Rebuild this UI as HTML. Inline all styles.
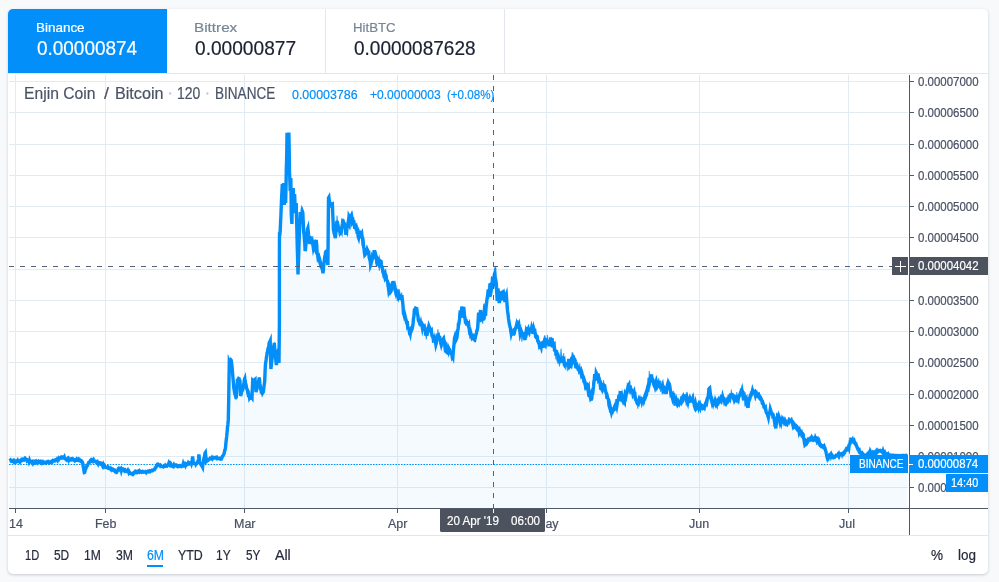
<!DOCTYPE html>
<html><head><meta charset="utf-8"><title>ENJBTC</title>
<style>
html,body{margin:0;padding:0;}
body{width:999px;height:582px;overflow:hidden;background:#f7f9fb;font-family:"Liberation Sans",sans-serif;position:relative;}
.card{position:absolute;left:8px;top:9px;width:980px;height:565px;background:#fff;border-radius:5px;box-shadow:0 1px 3px rgba(40,50,70,.23);}
.sel{position:absolute;left:8px;top:9px;width:159px;height:64px;background:#038ff9;border-top-left-radius:5px;}
.vline{position:absolute;top:9px;width:1px;height:64px;background:#e3e7ed;}
.hline{position:absolute;left:8px;width:980px;height:1px;background:#e3e7ed;}
.chart{position:absolute;left:0;top:0;}
.txt{position:absolute;left:0;top:0;width:999px;height:582px;will-change:transform;}
.t{position:absolute;white-space:nowrap;color:#485063;transform-origin:0 0;-webkit-text-stroke:0.2px;}
.box{position:absolute;}
</style></head><body>
<div class="card"></div>
<div class="sel"></div>
<div class="vline" style="left:325px"></div><div class="vline" style="left:504px"></div>
<div class="hline" style="top:73px"></div><div class="hline" style="top:535px"></div>

<svg class="chart" width="999" height="582" viewBox="0 0 999 582">
<rect x="15" y="75" width="1" height="433" fill="#e1ecf2"/>
<rect x="105" y="75" width="1" height="433" fill="#e1ecf2"/>
<rect x="244" y="75" width="1" height="433" fill="#e1ecf2"/>
<rect x="397" y="75" width="1" height="433" fill="#e1ecf2"/>
<rect x="546" y="75" width="1" height="433" fill="#e1ecf2"/>
<rect x="699" y="75" width="1" height="433" fill="#e1ecf2"/>
<rect x="848" y="75" width="1" height="433" fill="#e1ecf2"/>
<rect x="9" y="81" width="899" height="1" fill="#e1ecf2"/>
<rect x="9" y="112" width="899" height="1" fill="#e1ecf2"/>
<rect x="9" y="144" width="899" height="1" fill="#e1ecf2"/>
<rect x="9" y="175" width="899" height="1" fill="#e1ecf2"/>
<rect x="9" y="206" width="899" height="1" fill="#e1ecf2"/>
<rect x="9" y="237" width="899" height="1" fill="#e1ecf2"/>
<rect x="9" y="269" width="899" height="1" fill="#e1ecf2"/>
<rect x="9" y="300" width="899" height="1" fill="#e1ecf2"/>
<rect x="9" y="331" width="899" height="1" fill="#e1ecf2"/>
<rect x="9" y="362" width="899" height="1" fill="#e1ecf2"/>
<rect x="9" y="394" width="899" height="1" fill="#e1ecf2"/>
<rect x="9" y="425" width="899" height="1" fill="#e1ecf2"/>
<rect x="9" y="456" width="899" height="1" fill="#e1ecf2"/>
<rect x="9" y="487" width="899" height="1" fill="#e1ecf2"/>
<path d="M9.5,460.8 L9.9,460.5 L10.3,460.6 L10.7,460.1 L11.1,460.5 L11.5,461.3 L12.0,461.2 L12.4,461.3 L12.8,461.5 L13.2,460.9 L13.6,461.6 L14.0,462.0 L14.4,461.9 L14.8,461.1 L15.2,461.6 L15.6,461.6 L16.0,461.9 L16.4,461.6 L16.8,461.4 L17.2,461.0 L17.6,460.4 L18.0,461.2 L18.4,461.0 L18.8,461.1 L19.2,461.5 L19.6,460.6 L20.0,460.5 L20.4,461.1 L20.8,460.2 L21.2,459.8 L21.7,459.2 L22.1,459.2 L22.5,459.5 L22.9,460.1 L23.3,459.8 L23.7,459.9 L24.1,458.9 L24.6,458.9 L25.0,458.4 L25.4,458.8 L25.8,459.0 L26.2,459.3 L26.6,459.4 L27.0,460.6 L27.4,460.2 L27.8,460.4 L28.2,460.4 L28.6,460.3 L29.0,461.5 L29.4,460.4 L29.8,461.7 L30.2,461.4 L30.6,461.7 L31.0,461.6 L31.5,461.4 L31.9,461.5 L32.3,462.5 L32.7,462.0 L33.1,463.0 L33.5,462.3 L33.9,462.2 L34.3,462.5 L34.7,462.0 L35.1,462.8 L35.5,462.7 L35.9,462.3 L36.3,461.6 L36.8,462.3 L37.2,462.7 L37.6,461.7 L38.0,461.4 L38.4,462.3 L38.8,462.2 L39.2,462.3 L39.6,462.0 L40.0,461.6 L40.4,462.0 L40.8,462.3 L41.2,462.7 L41.6,461.7 L42.0,461.9 L42.4,462.6 L42.8,462.1 L43.2,462.8 L43.6,462.8 L44.0,462.6 L44.4,462.3 L44.8,462.2 L45.2,462.6 L45.6,463.0 L46.0,463.0 L46.4,462.6 L46.8,462.4 L47.2,461.9 L47.6,462.0 L48.0,462.0 L48.4,462.4 L48.8,461.9 L49.2,462.3 L49.6,462.6 L50.0,462.1 L50.4,462.0 L50.8,462.2 L51.2,462.3 L51.6,462.1 L52.0,461.0 L52.4,460.7 L52.8,461.4 L53.2,461.0 L53.6,460.9 L54.0,461.0 L54.4,460.7 L54.8,460.8 L55.2,460.0 L55.7,459.7 L56.1,459.7 L56.5,459.5 L56.9,459.8 L57.3,460.3 L57.7,458.9 L58.2,459.2 L58.6,459.4 L59.0,458.4 L59.4,458.8 L59.8,458.3 L60.2,458.1 L60.7,457.7 L61.1,457.9 L61.5,457.5 L61.9,457.6 L62.3,457.0 L62.7,457.1 L63.1,457.1 L63.5,457.8 L63.9,457.7 L64.3,457.0 L64.7,458.4 L65.2,458.9 L65.6,458.9 L66.0,459.2 L66.4,459.8 L66.8,459.8 L67.2,459.3 L67.6,458.8 L68.0,459.5 L68.4,458.9 L68.8,460.0 L69.2,459.2 L69.6,459.2 L70.1,459.7 L70.5,459.3 L70.9,459.0 L71.3,459.4 L71.7,459.0 L72.1,458.9 L72.5,458.7 L72.9,459.2 L73.3,459.8 L73.7,459.9 L74.2,460.0 L74.6,459.8 L75.0,460.5 L75.4,460.1 L75.8,460.4 L76.2,460.4 L76.6,460.4 L77.0,459.4 L77.4,459.8 L77.8,459.9 L78.3,459.4 L78.7,460.1 L79.1,459.8 L79.5,459.5 L79.9,460.0 L80.3,460.3 L80.6,461.2 L81.0,461.5 L81.4,461.8 L81.8,461.4 L82.1,461.8 L82.5,462.5 L82.9,463.9 L83.2,466.5 L83.6,468.4 L83.9,470.5 L84.3,472.5 L84.6,472.4 L85.0,471.0 L85.3,469.6 L85.7,469.0 L86.0,468.0 L86.4,467.1 L86.8,466.3 L87.2,465.9 L87.6,465.4 L88.0,464.0 L88.4,463.3 L88.8,462.5 L89.2,462.5 L89.6,462.3 L89.9,462.0 L90.3,460.9 L90.7,461.0 L91.1,460.0 L91.5,459.5 L91.9,459.6 L92.3,459.7 L92.8,459.7 L93.2,460.7 L93.6,460.0 L94.0,460.9 L94.3,461.2 L94.7,461.0 L95.1,461.2 L95.5,461.5 L95.8,461.5 L96.2,462.0 L96.6,462.0 L97.0,462.3 L97.4,461.9 L97.8,462.7 L98.2,463.6 L98.6,462.6 L99.0,462.6 L99.4,463.1 L99.8,463.4 L100.2,463.6 L100.6,463.3 L101.0,464.0 L101.4,463.8 L101.8,464.3 L102.2,464.5 L102.6,465.5 L103.0,464.7 L103.3,465.7 L103.7,465.4 L104.1,466.4 L104.5,465.8 L104.9,466.6 L105.3,467.0 L105.7,467.0 L106.1,467.3 L106.5,467.3 L106.9,467.5 L107.3,467.6 L107.7,467.1 L108.0,467.6 L108.4,467.6 L108.8,468.4 L109.2,468.5 L109.6,468.7 L110.0,468.5 L110.4,468.2 L110.8,468.8 L111.2,469.4 L111.6,468.7 L112.0,469.0 L112.4,469.6 L112.8,469.8 L113.2,469.5 L113.6,470.0 L114.0,470.0 L114.4,470.0 L114.8,471.1 L115.2,471.0 L115.5,471.1 L115.9,472.1 L116.3,472.5 L116.7,472.3 L117.1,471.0 L117.5,470.6 L117.8,470.1 L118.2,469.1 L118.6,469.2 L119.0,468.5 L119.4,468.6 L119.8,469.3 L120.2,468.7 L120.6,469.0 L121.0,469.2 L121.3,470.4 L121.7,469.0 L122.1,469.5 L122.5,469.2 L122.9,469.5 L123.3,469.3 L123.7,470.0 L124.1,470.5 L124.5,470.3 L124.9,470.9 L125.3,470.4 L125.7,471.0 L126.0,471.2 L126.4,471.3 L126.8,471.0 L127.2,470.8 L127.6,470.3 L128.0,471.5 L128.4,471.5 L128.8,472.5 L129.2,471.8 L129.6,472.5 L130.0,472.8 L130.5,473.4 L130.9,473.3 L131.3,473.4 L131.7,473.4 L132.1,474.0 L132.5,474.3 L132.9,473.6 L133.2,473.3 L133.6,473.6 L134.0,473.1 L134.4,472.5 L134.8,471.9 L135.1,472.1 L135.5,471.5 L135.9,471.8 L136.3,472.3 L136.8,472.1 L137.2,471.6 L137.6,471.8 L138.0,472.0 L138.4,471.4 L138.8,471.8 L139.2,472.0 L139.6,471.3 L140.0,471.9 L140.4,471.8 L140.8,471.6 L141.2,471.7 L141.5,472.0 L141.9,471.6 L142.3,471.4 L142.7,472.0 L143.1,472.1 L143.5,471.8 L143.9,471.9 L144.3,472.0 L144.7,472.0 L145.1,471.8 L145.5,471.5 L145.9,471.8 L146.3,472.5 L146.7,472.0 L147.2,472.0 L147.6,471.8 L148.0,471.8 L148.4,471.2 L148.8,471.4 L149.2,471.5 L149.6,471.1 L150.0,471.5 L150.4,471.0 L150.8,470.9 L151.3,470.6 L151.7,470.7 L152.1,470.1 L152.5,470.1 L152.9,470.3 L153.3,469.8 L153.8,469.6 L154.2,469.4 L154.6,469.5 L155.0,468.7 L155.3,467.7 L155.7,467.6 L156.1,467.3 L156.5,466.2 L156.8,466.0 L157.2,464.8 L157.6,465.0 L158.0,464.5 L158.4,465.0 L158.9,465.0 L159.3,465.5 L159.7,465.6 L160.1,465.3 L160.5,466.1 L160.9,465.8 L161.3,466.1 L161.8,466.4 L162.2,466.4 L162.6,466.4 L163.0,466.5 L163.4,466.8 L163.8,466.7 L164.2,466.4 L164.6,466.4 L165.0,466.4 L165.4,465.5 L165.8,466.0 L166.2,466.1 L166.6,465.9 L167.0,466.0 L167.4,465.3 L167.8,465.0 L168.1,464.4 L168.5,464.1 L168.9,463.0 L169.2,463.6 L169.6,462.4 L170.0,462.5 L170.4,463.2 L170.8,464.5 L171.1,465.3 L171.5,466.0 L171.9,465.8 L172.3,465.6 L172.7,466.0 L173.1,465.5 L173.4,465.9 L173.8,465.1 L174.2,466.0 L174.6,465.5 L175.0,465.5 L175.4,465.5 L175.8,465.0 L176.2,465.0 L176.7,465.8 L177.1,465.5 L177.5,465.8 L177.9,466.3 L178.3,465.8 L178.7,466.0 L179.2,465.9 L179.6,465.7 L180.0,466.2 L180.4,466.0 L180.8,466.3 L181.2,466.4 L181.6,466.1 L182.0,465.7 L182.4,465.5 L182.8,465.6 L183.2,464.0 L183.6,465.2 L184.0,464.9 L184.4,465.2 L184.8,464.8 L185.2,465.5 L185.6,464.1 L186.0,464.5 L186.4,464.9 L186.8,464.7 L187.2,463.7 L187.6,463.5 L188.0,463.0 L188.4,463.4 L188.8,463.7 L189.2,463.2 L189.6,463.5 L190.0,463.0 L190.4,463.1 L190.8,462.9 L191.2,462.3 L191.6,463.6 L192.0,462.5 L192.3,459.6 L192.6,456.5 L193.0,459.6 L193.4,463.2 L193.8,463.4 L194.2,463.3 L194.7,463.5 L195.1,463.9 L195.5,464.3 L195.9,464.4 L196.3,463.9 L196.7,463.5 L197.1,462.6 L197.4,462.5 L197.8,462.0 L198.2,462.0 L198.6,458.5 L198.9,454.5 L199.2,457.1 L199.5,460.5 L199.8,463.0 L200.2,463.4 L200.6,463.8 L201.0,464.8 L201.4,465.4 L201.8,465.3 L202.2,466.2 L202.6,467.0 L202.9,464.1 L203.3,462.0 L203.6,460.0 L204.0,458.1 L204.3,457.3 L204.7,455.4 L205.0,453.1 L205.4,452.5 L205.7,455.3 L206.0,458.1 L206.3,461.0 L206.7,460.4 L207.1,460.8 L207.5,460.4 L207.9,459.9 L208.4,459.9 L208.8,459.7 L209.2,459.1 L209.6,458.9 L210.0,458.5 L210.4,458.2 L210.8,458.4 L211.2,458.7 L211.6,458.6 L212.0,458.9 L212.4,457.7 L212.8,458.2 L213.2,458.0 L213.6,457.9 L214.0,457.5 L214.4,457.6 L214.8,457.7 L215.2,457.6 L215.6,457.5 L216.0,457.5 L216.4,458.1 L216.8,457.7 L217.2,458.5 L217.6,458.7 L218.0,458.5 L218.4,458.6 L218.8,458.5 L219.2,458.7 L219.6,458.8 L220.0,458.3 L220.4,458.5 L220.8,458.4 L221.2,458.3 L221.6,458.5 L222.0,457.4 L222.4,456.3 L222.8,456.0 L223.2,455.6 L223.6,454.5 L224.0,454.0 L224.4,452.0 L224.8,450.1 L225.1,449.8 L225.5,447.6 L225.9,443.0 L226.3,439.4 L226.7,436.2 L227.1,432.1 L227.5,427.0 L227.9,424.5 L228.3,419.4 L228.7,399.7 L229.0,380.0 L229.3,361.5 L229.7,362.4 L230.1,362.2 L230.5,360.4 L230.9,360.0 L231.3,360.5 L231.7,363.9 L232.1,367.7 L232.5,372.0 L232.8,376.2 L233.2,380.4 L233.5,384.4 L233.8,388.0 L234.2,389.8 L234.6,392.7 L235.0,394.3 L235.4,395.4 L235.8,397.3 L236.2,398.5 L236.6,392.3 L237.0,386.2 L237.4,380.0 L237.8,379.8 L238.2,379.3 L238.6,378.5 L238.9,378.7 L239.3,380.6 L239.7,380.2 L240.0,381.0 L240.3,388.5 L240.6,396.0 L241.0,394.6 L241.4,392.8 L241.7,391.2 L242.1,391.1 L242.5,390.0 L242.9,388.7 L243.3,386.9 L243.7,384.3 L244.0,382.9 L244.4,379.4 L244.8,378.5 L245.1,381.1 L245.5,383.4 L245.8,383.9 L246.2,385.8 L246.5,388.0 L246.9,389.1 L247.3,389.6 L247.7,392.2 L248.1,392.1 L248.4,395.1 L248.8,395.0 L249.2,395.2 L249.6,398.0 L250.0,397.4 L250.4,397.6 L250.8,397.0 L251.2,397.7 L251.6,397.5 L252.0,398.0 L252.3,389.2 L252.7,380.5 L253.1,380.9 L253.5,380.7 L253.9,380.3 L254.3,381.3 L254.7,380.5 L255.1,380.0 L255.4,384.5 L255.7,388.2 L256.0,392.0 L256.4,390.3 L256.8,389.2 L257.1,387.2 L257.5,386.0 L257.8,385.3 L258.2,382.0 L258.5,381.7 L258.9,380.2 L259.2,377.5 L259.6,380.4 L259.9,383.7 L260.3,386.0 L260.6,389.1 L261.0,389.3 L261.3,392.0 L261.7,392.0 L262.1,391.8 L262.5,393.2 L262.9,392.5 L263.3,392.0 L263.6,390.1 L264.0,386.2 L264.4,383.4 L264.7,381.0 L265.0,373.0 L265.4,365.0 L265.8,361.5 L266.1,360.6 L266.4,357.4 L266.8,355.0 L267.1,352.7 L267.5,352.1 L267.8,349.9 L268.2,348.5 L268.5,347.0 L268.8,345.5 L269.2,343.0 L269.5,342.0 L269.9,341.7 L270.2,341.0 L270.5,355.0 L270.9,369.0 L271.3,365.4 L271.7,361.6 L272.1,358.6 L272.5,355.0 L272.9,353.8 L273.2,349.2 L273.6,346.4 L273.9,345.8 L274.3,343.0 L274.7,348.1 L275.0,350.7 L275.4,354.0 L275.7,358.3 L276.1,362.9 L276.4,365.0 L276.8,361.8 L277.1,360.1 L277.5,355.0 L277.8,352.5 L278.2,352.6 L278.5,349.5 L278.8,356.2 L279.0,363.0 L279.4,323.0 L279.4,258.8 L279.5,234.0 L279.9,234.0 L280.2,231.0 L280.5,223.2 L280.9,215.5 L281.2,207.8 L281.5,200.0 L281.9,192.0 L282.3,184.0 L282.6,190.5 L283.0,197.0 L283.3,190.0 L283.6,183.0 L284.0,194.0 L284.3,205.0 L284.6,195.5 L285.0,186.0 L285.3,194.5 L285.6,203.0 L286.0,186.5 L286.3,170.0 L286.6,160.0 L286.8,150.0 L287.0,134.4 L287.4,134.4 L287.8,134.3 L288.1,134.3 L288.5,134.2 L288.9,134.2 L289.2,150.0 L289.5,172.0 L289.9,181.5 L290.2,191.0 L290.5,184.5 L290.8,178.0 L291.1,196.5 L291.3,215.0 L291.6,219.5 L291.9,224.0 L292.2,210.5 L292.5,197.0 L292.9,191.6 L293.2,188.0 L293.6,198.0 L294.0,208.0 L294.3,201.0 L294.6,194.0 L295.0,203.5 L295.4,213.0 L295.8,211.6 L296.2,203.0 L296.6,219.0 L297.0,235.0 L297.3,248.2 L297.7,261.3 L298.0,274.5 L298.3,264.7 L298.7,254.8 L299.0,245.0 L299.3,236.8 L299.6,228.5 L300.0,220.2 L300.3,212.0 L300.7,214.2 L301.1,214.8 L301.5,217.0 L301.8,214.4 L302.1,215.3 L302.5,211.7 L302.8,212.5 L303.1,219.0 L303.4,225.5 L303.7,232.0 L304.1,234.7 L304.4,239.2 L304.8,243.9 L305.1,251.0 L305.5,249.6 L305.8,245.9 L306.1,243.0 L306.5,240.0 L306.9,236.5 L307.2,232.4 L307.5,229.1 L307.9,228.0 L308.2,231.2 L308.5,234.2 L308.9,237.1 L309.2,243.0 L309.6,241.8 L309.9,243.9 L310.3,240.6 L310.7,238.7 L311.0,239.1 L311.4,240.0 L311.8,239.9 L312.2,242.3 L312.6,243.4 L313.0,245.8 L313.4,248.5 L313.8,247.2 L314.2,245.6 L314.6,246.8 L314.9,243.8 L315.3,245.9 L315.7,242.6 L316.1,240.0 L316.5,242.8 L316.8,245.9 L317.1,252.8 L317.5,254.0 L317.9,257.0 L318.2,256.3 L318.6,257.6 L319.0,259.1 L319.3,258.1 L319.7,259.5 L320.1,261.5 L320.5,262.7 L320.8,266.2 L321.2,267.0 L321.6,267.7 L322.0,267.5 L322.3,269.3 L322.6,270.6 L323.0,273.2 L323.4,269.5 L323.7,265.8 L324.0,262.8 L324.4,259.5 L324.8,256.3 L325.2,255.4 L325.5,252.5 L325.9,251.4 L326.3,251.2 L326.7,254.5 L327.1,257.1 L327.5,262.4 L327.9,265.0 L328.2,231.5 L328.5,198.0 L328.9,197.3 L329.2,199.9 L329.5,202.5 L329.9,203.8 L330.3,205.9 L330.7,206.0 L331.1,205.5 L331.6,204.4 L332.0,204.2 L332.4,204.0 L332.7,212.7 L333.1,221.3 L333.4,230.0 L333.8,231.3 L334.2,233.8 L334.6,234.6 L335.0,236.5 L335.4,238.0 L335.8,233.1 L336.2,227.5 L336.6,223.7 L337.0,220.9 L337.4,222.9 L337.8,224.1 L338.2,226.2 L338.6,228.3 L338.9,230.3 L339.3,231.1 L339.7,231.5 L340.1,233.3 L340.5,232.8 L340.9,228.8 L341.3,228.5 L341.6,229.5 L342.0,226.3 L342.4,223.8 L342.8,220.7 L343.2,220.9 L343.6,222.5 L344.0,225.3 L344.4,228.0 L344.8,225.1 L345.1,225.5 L345.5,229.0 L345.9,234.9 L346.3,230.2 L346.7,231.0 L347.1,226.3 L347.5,228.3 L347.9,223.9 L348.2,222.0 L348.6,222.9 L349.0,216.9 L349.4,217.8 L349.8,214.0 L350.2,218.9 L350.6,216.7 L350.9,220.2 L351.3,218.4 L351.7,220.3 L352.1,218.6 L352.5,220.9 L352.9,220.5 L353.2,222.7 L353.6,220.2 L354.0,224.3 L354.4,226.0 L354.8,228.8 L355.1,226.4 L355.5,227.1 L355.9,226.6 L356.3,230.5 L356.7,228.7 L357.1,232.7 L357.4,232.9 L357.8,232.2 L358.2,236.8 L358.6,237.9 L359.0,235.5 L359.4,234.9 L359.8,234.2 L360.1,234.5 L360.5,234.8 L360.9,231.3 L361.3,234.0 L361.7,233.3 L362.1,237.0 L362.5,237.4 L362.9,242.3 L363.2,242.0 L363.6,246.6 L364.0,248.8 L364.4,252.4 L364.8,254.9 L365.2,254.4 L365.6,251.4 L366.0,252.9 L366.4,252.2 L366.7,250.0 L367.1,249.2 L367.5,249.9 L367.9,251.8 L368.3,255.1 L368.7,250.6 L369.1,257.1 L369.4,258.3 L369.8,259.7 L370.2,259.7 L370.6,265.2 L371.0,264.2 L371.4,260.2 L371.8,259.3 L372.2,257.1 L372.6,258.0 L373.0,256.6 L373.4,256.7 L373.8,258.7 L374.2,255.3 L374.6,250.2 L375.0,252.5 L375.4,253.1 L375.7,255.7 L376.1,259.4 L376.5,257.8 L376.8,263.2 L377.2,264.2 L377.6,265.7 L378.0,261.7 L378.4,262.9 L378.8,261.6 L379.1,263.4 L379.5,263.9 L379.9,260.7 L380.3,261.1 L380.7,261.9 L381.1,261.8 L381.5,264.8 L381.9,267.2 L382.2,267.6 L382.6,269.0 L383.0,272.4 L383.4,273.5 L383.8,273.8 L384.2,275.3 L384.6,273.1 L384.9,272.7 L385.3,275.8 L385.7,274.7 L386.1,275.6 L386.5,279.6 L386.9,280.3 L387.3,280.8 L387.7,281.9 L388.1,284.4 L388.4,287.5 L388.8,290.8 L389.2,289.6 L389.6,293.6 L390.0,290.9 L390.4,287.9 L390.8,291.5 L391.2,290.9 L391.6,286.2 L392.0,285.0 L392.4,285.3 L392.8,281.8 L393.2,283.2 L393.6,281.2 L394.0,285.0 L394.4,284.4 L394.9,286.6 L395.3,290.4 L395.7,292.0 L396.1,290.1 L396.5,290.9 L396.9,295.7 L397.2,294.7 L397.6,293.9 L398.0,297.0 L398.4,294.3 L398.8,296.6 L399.2,295.6 L399.6,294.0 L400.0,298.2 L400.4,299.5 L400.7,296.4 L401.1,296.4 L401.5,297.7 L401.9,295.1 L402.3,299.8 L402.7,302.1 L403.1,306.8 L403.5,313.6 L403.9,314.2 L404.3,315.8 L404.7,314.7 L405.1,316.4 L405.4,317.0 L405.8,319.2 L406.2,320.4 L406.6,322.9 L407.0,323.5 L407.4,323.3 L407.8,327.3 L408.2,327.7 L408.7,329.0 L409.1,329.5 L409.5,332.5 L409.9,332.2 L410.3,333.7 L410.7,331.2 L411.1,329.8 L411.5,330.4 L411.9,329.5 L412.3,327.8 L412.7,326.0 L413.1,323.2 L413.5,318.0 L413.9,316.9 L414.3,310.0 L414.7,309.4 L415.1,310.2 L415.6,311.0 L416.0,308.3 L416.4,308.5 L416.8,308.7 L417.2,312.8 L417.5,314.1 L417.9,315.8 L418.3,319.8 L418.7,320.9 L419.1,320.9 L419.5,321.5 L419.9,321.8 L420.4,325.2 L420.8,323.6 L421.2,325.8 L421.6,323.5 L422.0,326.0 L422.4,328.1 L422.8,326.3 L423.3,327.6 L423.7,327.5 L424.1,327.1 L424.5,326.6 L424.9,328.1 L425.3,330.0 L425.8,335.5 L426.2,334.1 L426.6,333.7 L427.0,333.8 L427.3,330.6 L427.7,332.3 L428.1,329.4 L428.4,327.8 L428.8,326.0 L429.2,327.1 L429.6,327.4 L430.0,328.8 L430.4,329.3 L430.7,330.9 L431.1,331.9 L431.5,331.3 L431.9,335.3 L432.3,335.4 L432.7,337.2 L433.1,337.4 L433.5,340.9 L433.9,340.8 L434.3,340.2 L434.7,338.8 L435.1,340.6 L435.5,341.8 L435.9,344.6 L436.3,343.2 L436.6,340.4 L437.0,337.6 L437.4,337.7 L437.7,335.2 L438.1,333.7 L438.5,336.5 L438.9,336.7 L439.3,337.8 L439.6,336.0 L440.0,339.6 L440.4,341.2 L440.8,343.1 L441.2,344.6 L441.6,343.0 L442.0,343.0 L442.4,340.1 L442.8,340.0 L443.2,339.0 L443.6,338.4 L444.0,340.5 L444.4,341.9 L444.8,345.5 L445.1,348.0 L445.5,347.3 L445.9,346.6 L446.3,351.2 L446.7,352.3 L447.1,352.6 L447.5,350.3 L447.9,350.3 L448.2,351.1 L448.6,348.7 L449.0,349.7 L449.4,351.0 L449.8,350.7 L450.2,352.2 L450.6,353.1 L451.0,353.5 L451.4,353.7 L451.7,354.0 L452.1,356.3 L452.5,355.5 L452.9,356.5 L453.3,351.4 L453.7,347.1 L454.1,343.2 L454.5,338.4 L454.9,337.0 L455.2,338.5 L455.6,339.1 L455.9,340.2 L456.2,339.6 L456.6,338.4 L457.0,337.1 L457.4,333.3 L457.7,330.1 L458.1,329.5 L458.5,322.9 L458.8,325.0 L459.2,321.3 L459.5,320.0 L459.9,313.7 L460.3,310.5 L460.6,312.2 L461.0,318.0 L461.4,312.2 L461.8,306.5 L462.2,308.8 L462.6,316.0 L463.0,311.2 L463.3,308.6 L463.7,306.8 L464.0,309.8 L464.3,312.8 L464.6,317.5 L465.0,317.7 L465.3,320.5 L465.7,320.1 L466.1,320.7 L466.5,323.8 L466.9,323.8 L467.2,323.5 L467.6,321.2 L468.0,324.7 L468.4,326.0 L468.8,325.1 L469.2,328.6 L469.6,331.6 L469.9,331.3 L470.3,333.5 L470.7,332.5 L471.1,334.1 L471.5,335.3 L471.9,336.9 L472.3,336.1 L472.7,336.7 L473.1,336.3 L473.4,337.6 L473.8,339.0 L474.2,339.4 L474.6,338.4 L475.0,338.9 L475.4,337.0 L475.8,335.0 L476.1,334.4 L476.5,332.6 L476.9,330.4 L477.3,330.0 L477.7,327.6 L478.0,322.6 L478.3,317.5 L478.6,312.5 L478.9,317.5 L479.3,319.3 L479.6,322.0 L479.9,319.2 L480.2,313.8 L480.5,310.0 L480.8,316.5 L481.2,316.4 L481.5,321.0 L481.8,318.3 L482.2,312.9 L482.5,311.5 L482.8,316.5 L483.2,319.1 L483.5,320.5 L483.8,316.3 L484.2,311.3 L484.5,308.5 L484.8,309.0 L485.2,312.4 L485.5,316.0 L485.8,310.9 L486.2,305.6 L486.5,304.0 L486.8,300.5 L487.2,298.1 L487.5,299.0 L487.9,291.9 L488.3,289.5 L488.6,290.8 L489.0,293.1 L489.3,297.0 L489.6,292.3 L490.0,289.8 L490.3,283.0 L490.6,288.1 L491.0,288.8 L491.3,290.0 L491.7,287.9 L492.0,285.5 L492.4,279.5 L492.7,279.8 L493.1,282.3 L493.4,283.0 L493.8,280.4 L494.2,276.0 L494.5,274.3 L494.9,273.2 L495.2,277.5 L495.6,279.0 L496.0,281.2 L496.4,285.0 L496.8,293.0 L497.2,301.0 L497.5,295.2 L497.9,290.7 L498.2,290.5 L498.5,292.3 L498.9,299.1 L499.2,303.0 L499.5,300.7 L499.9,300.5 L500.2,293.8 L500.5,291.5 L500.9,293.6 L501.2,293.3 L501.6,298.3 L502.0,300.0 L502.4,296.4 L502.8,298.5 L503.1,293.1 L503.5,292.5 L503.9,294.5 L504.2,297.5 L504.6,299.6 L505.0,302.0 L505.3,299.3 L505.6,298.5 L506.0,295.3 L506.3,294.5 L506.6,298.5 L506.9,302.5 L507.2,307.0 L507.6,311.0 L507.9,313.2 L508.2,315.6 L508.6,319.0 L509.0,321.8 L509.3,323.7 L509.7,325.3 L510.1,327.4 L510.4,327.8 L510.8,331.0 L511.2,333.5 L511.6,332.0 L512.0,332.2 L512.4,332.4 L512.7,332.2 L513.1,333.0 L513.5,334.1 L513.9,334.1 L514.3,333.2 L514.7,329.6 L515.1,329.6 L515.5,327.9 L515.9,327.6 L516.3,326.0 L516.7,328.5 L517.1,324.1 L517.5,324.4 L517.9,321.7 L518.3,324.4 L518.7,323.7 L519.1,326.9 L519.5,328.1 L519.8,330.5 L520.2,333.8 L520.6,332.5 L521.0,334.1 L521.4,334.3 L521.8,332.6 L522.2,333.7 L522.6,334.5 L523.1,334.3 L523.5,335.5 L523.9,336.7 L524.3,337.8 L524.7,338.7 L525.1,339.9 L525.5,333.1 L525.9,332.9 L526.2,331.1 L526.6,332.1 L527.0,329.9 L527.4,327.2 L527.8,331.0 L528.2,331.2 L528.6,332.0 L529.0,332.7 L529.4,330.6 L529.8,328.4 L530.1,330.4 L530.5,328.1 L530.9,332.3 L531.3,329.7 L531.7,327.6 L532.1,328.9 L532.5,329.5 L532.9,333.8 L533.3,332.4 L533.8,328.9 L534.2,330.3 L534.6,329.0 L535.0,333.5 L535.4,333.8 L535.8,337.8 L536.3,334.6 L536.7,339.2 L537.1,335.6 L537.5,338.4 L537.9,342.3 L538.3,340.6 L538.7,343.1 L539.2,343.9 L539.6,346.3 L540.0,345.8 L540.4,344.5 L540.8,344.9 L541.2,346.2 L541.6,343.0 L542.0,342.8 L542.4,345.0 L542.8,346.3 L543.2,347.7 L543.6,343.1 L544.0,341.9 L544.4,340.6 L544.8,341.8 L545.2,338.2 L545.6,341.3 L546.0,339.4 L546.3,344.0 L546.7,340.1 L547.1,342.6 L547.5,340.3 L547.9,343.4 L548.3,341.7 L548.7,344.3 L549.1,346.0 L549.5,343.1 L549.8,344.6 L550.2,341.4 L550.6,337.7 L551.0,340.3 L551.4,341.4 L551.8,338.2 L552.2,343.2 L552.5,347.3 L552.9,343.2 L553.3,345.0 L553.7,345.4 L554.1,344.9 L554.5,349.8 L554.9,349.8 L555.3,351.0 L555.7,351.5 L556.0,355.5 L556.4,350.2 L556.8,353.2 L557.2,354.2 L557.6,354.2 L558.0,358.1 L558.5,357.6 L558.9,360.0 L559.3,360.3 L559.7,362.4 L560.1,358.3 L560.5,362.9 L561.0,360.0 L561.4,360.4 L561.8,361.9 L562.2,358.5 L562.6,363.1 L563.0,359.9 L563.4,360.0 L563.9,359.5 L564.3,363.8 L564.7,363.6 L565.1,365.3 L565.5,365.0 L565.9,362.4 L566.3,364.1 L566.7,363.9 L567.1,366.1 L567.5,364.2 L568.0,363.6 L568.4,363.6 L568.8,358.8 L569.2,363.1 L569.6,361.9 L570.0,361.3 L570.4,364.8 L570.9,363.9 L571.3,364.7 L571.7,362.9 L572.1,361.1 L572.5,360.3 L572.9,357.1 L573.4,358.0 L573.8,359.4 L574.2,358.8 L574.6,359.1 L575.0,363.7 L575.4,364.4 L575.8,367.0 L576.1,367.1 L576.5,365.5 L576.9,365.1 L577.3,366.6 L577.7,369.3 L578.1,365.9 L578.5,370.9 L578.9,369.7 L579.4,370.8 L579.8,370.3 L580.2,369.9 L580.6,370.7 L581.0,372.7 L581.4,371.3 L581.8,372.5 L582.2,374.8 L582.6,378.0 L583.0,376.3 L583.4,377.1 L583.8,380.1 L584.2,379.8 L584.6,381.2 L585.0,382.0 L585.4,385.2 L585.8,384.4 L586.2,384.5 L586.5,386.3 L586.9,385.7 L587.3,387.1 L587.7,386.6 L588.1,389.7 L588.5,388.6 L588.9,393.9 L589.3,396.7 L589.7,395.2 L590.0,396.9 L590.4,397.1 L590.8,398.5 L591.2,400.6 L591.6,395.2 L592.0,395.6 L592.4,390.6 L592.8,389.6 L593.1,390.1 L593.5,386.7 L593.9,381.5 L594.3,380.0 L594.7,374.1 L595.1,379.8 L595.5,379.5 L595.8,378.8 L596.2,372.9 L596.6,373.8 L597.0,376.7 L597.4,373.5 L597.8,375.5 L598.1,373.6 L598.5,378.4 L598.8,377.8 L599.1,378.9 L599.5,383.0 L599.9,381.0 L600.3,385.0 L600.8,384.1 L601.2,385.4 L601.6,388.9 L602.0,389.7 L602.4,390.5 L602.8,389.7 L603.2,386.0 L603.5,386.3 L603.9,389.2 L604.3,385.4 L604.7,385.6 L605.1,388.2 L605.5,390.3 L605.9,392.6 L606.3,393.0 L606.7,393.7 L607.0,396.9 L607.4,396.8 L607.8,398.2 L608.2,399.0 L608.6,400.8 L609.0,405.3 L609.5,406.9 L609.9,405.7 L610.3,407.7 L610.7,412.5 L611.1,410.7 L611.5,412.5 L611.9,411.2 L612.3,411.5 L612.8,408.1 L613.2,411.4 L613.6,408.6 L614.0,408.0 L614.4,408.3 L614.8,406.0 L615.2,405.9 L615.6,404.7 L616.0,405.0 L616.3,405.2 L616.7,406.6 L617.1,404.2 L617.5,400.6 L617.9,400.6 L618.3,400.3 L618.7,397.0 L619.0,395.0 L619.4,396.9 L619.8,397.5 L620.2,392.7 L620.6,392.8 L621.0,391.2 L621.4,395.0 L621.7,398.8 L622.1,396.9 L622.5,398.8 L622.9,401.3 L623.2,401.5 L623.6,402.1 L624.0,402.0 L624.4,402.6 L624.7,397.4 L625.1,394.5 L625.5,395.4 L625.9,396.3 L626.3,393.9 L626.6,391.8 L627.0,391.1 L627.4,389.5 L627.8,389.3 L628.1,388.6 L628.5,385.5 L628.9,384.8 L629.3,389.2 L629.6,387.8 L630.0,387.0 L630.4,387.0 L630.8,388.6 L631.2,389.7 L631.6,390.1 L632.0,392.6 L632.3,389.5 L632.7,392.6 L633.1,395.0 L633.5,394.4 L633.9,393.2 L634.3,396.0 L634.7,392.0 L635.1,397.3 L635.5,399.6 L636.0,400.0 L636.4,400.2 L636.8,402.4 L637.2,403.4 L637.6,403.7 L638.0,403.1 L638.4,403.6 L638.7,402.4 L639.1,399.8 L639.5,400.5 L639.9,398.8 L640.2,399.0 L640.6,402.1 L641.0,397.7 L641.4,401.2 L641.8,397.8 L642.2,400.8 L642.6,399.5 L643.0,399.4 L643.3,399.9 L643.7,400.5 L644.1,398.0 L644.5,397.1 L644.9,396.0 L645.3,397.5 L645.7,393.5 L646.1,395.4 L646.5,394.3 L646.8,391.1 L647.2,389.5 L647.6,391.8 L648.0,389.9 L648.4,386.6 L648.8,384.6 L649.2,377.9 L649.6,379.2 L650.0,381.0 L650.3,379.7 L650.7,377.9 L651.1,378.6 L651.5,374.3 L651.9,378.8 L652.3,378.9 L652.7,379.1 L653.0,380.1 L653.4,380.8 L653.8,384.1 L654.2,384.1 L654.6,386.6 L655.0,387.2 L655.4,383.6 L655.8,382.4 L656.2,386.0 L656.7,382.3 L657.1,383.3 L657.5,385.7 L657.9,384.8 L658.3,383.6 L658.7,383.5 L659.1,380.7 L659.5,386.5 L659.9,386.9 L660.3,386.6 L660.7,386.4 L661.1,389.1 L661.5,385.0 L661.9,386.4 L662.3,388.2 L662.7,386.7 L663.1,389.2 L663.5,390.5 L663.8,393.5 L664.2,391.2 L664.6,390.1 L665.0,391.4 L665.4,391.3 L665.8,391.7 L666.2,393.9 L666.6,390.4 L667.0,388.5 L667.3,385.4 L667.7,384.0 L668.1,382.6 L668.5,383.6 L668.9,383.3 L669.3,383.9 L669.7,385.5 L670.0,388.2 L670.4,390.2 L670.8,393.1 L671.2,392.4 L671.6,392.8 L672.0,396.2 L672.4,397.8 L672.8,396.0 L673.2,393.0 L673.5,396.8 L673.9,397.2 L674.3,400.0 L674.7,402.1 L675.1,405.6 L675.5,402.9 L676.0,402.4 L676.4,399.9 L676.8,401.1 L677.2,402.0 L677.6,401.5 L678.0,404.0 L678.5,403.2 L678.9,402.9 L679.3,403.7 L679.7,402.8 L680.1,402.6 L680.6,401.4 L681.0,402.0 L681.4,399.9 L681.8,398.8 L682.2,398.7 L682.6,397.1 L683.1,396.2 L683.5,397.5 L683.9,395.9 L684.3,396.0 L684.7,394.3 L685.1,398.4 L685.5,398.4 L685.9,398.3 L686.2,396.8 L686.6,399.4 L687.0,398.1 L687.4,400.1 L687.8,401.6 L688.2,399.1 L688.6,402.1 L689.0,400.1 L689.4,399.1 L689.8,401.3 L690.2,401.1 L690.5,398.2 L690.9,398.4 L691.3,401.4 L691.7,397.5 L692.1,400.0 L692.5,399.7 L692.8,398.9 L693.2,401.9 L693.6,402.5 L694.0,400.9 L694.3,405.5 L694.7,406.7 L695.1,405.8 L695.5,403.9 L695.9,405.9 L696.3,408.6 L696.7,408.1 L697.1,405.5 L697.6,405.3 L698.0,406.3 L698.4,405.3 L698.8,407.3 L699.2,406.1 L699.6,406.3 L700.0,405.2 L700.4,406.7 L700.8,404.9 L701.1,407.5 L701.5,407.0 L701.9,405.5 L702.3,405.7 L702.7,407.0 L703.0,408.0 L703.4,407.8 L703.8,407.8 L704.2,408.2 L704.6,406.5 L705.0,406.1 L705.4,403.8 L705.8,403.6 L706.3,401.9 L706.7,402.6 L707.1,400.4 L707.5,398.2 L707.9,398.1 L708.2,397.2 L708.6,392.4 L708.9,389.0 L709.3,388.5 L709.7,388.1 L710.1,391.7 L710.5,395.0 L710.8,396.1 L711.2,399.0 L711.6,400.6 L712.0,402.3 L712.4,401.0 L712.8,401.3 L713.2,403.0 L713.6,401.5 L714.0,401.3 L714.4,401.0 L714.8,401.5 L715.1,402.4 L715.5,400.3 L715.9,401.2 L716.3,402.7 L716.7,403.7 L717.1,400.8 L717.5,400.9 L717.9,400.2 L718.3,399.6 L718.7,401.8 L719.1,401.1 L719.5,401.5 L719.9,401.0 L720.2,401.4 L720.6,401.0 L721.0,399.2 L721.4,400.1 L721.8,398.2 L722.2,398.5 L722.6,396.6 L723.0,398.1 L723.4,397.8 L723.8,398.1 L724.2,399.7 L724.6,401.6 L725.0,400.8 L725.5,401.2 L725.9,400.8 L726.3,403.2 L726.7,402.8 L727.1,402.3 L727.5,402.2 L727.9,399.2 L728.4,399.5 L728.8,397.6 L729.2,397.9 L729.6,397.4 L730.0,398.3 L730.5,396.0 L730.9,393.5 L731.3,395.4 L731.7,396.0 L732.1,395.9 L732.5,395.4 L732.9,395.8 L733.3,397.7 L733.8,399.1 L734.2,398.7 L734.6,400.7 L735.0,400.1 L735.4,399.5 L735.8,399.8 L736.2,400.2 L736.6,397.1 L737.0,397.3 L737.5,397.8 L737.9,397.9 L738.3,398.9 L738.7,396.5 L739.1,396.3 L739.5,395.4 L739.9,394.8 L740.3,394.0 L740.7,394.0 L741.1,391.7 L741.6,392.3 L742.0,390.7 L742.4,393.0 L742.8,391.3 L743.2,393.8 L743.5,394.7 L743.9,397.1 L744.3,396.5 L744.6,399.4 L745.0,398.1 L745.4,395.4 L745.8,400.7 L746.2,399.9 L746.6,404.0 L747.0,405.1 L747.4,404.6 L747.8,406.4 L748.2,406.4 L748.6,401.8 L749.0,400.5 L749.3,398.9 L749.7,399.0 L750.1,397.8 L750.5,394.0 L750.9,395.6 L751.3,395.2 L751.7,392.8 L752.1,392.3 L752.5,390.5 L753.0,392.2 L753.4,392.1 L753.8,394.5 L754.2,391.5 L754.6,391.3 L755.0,394.0 L755.4,395.5 L755.8,394.2 L756.2,393.2 L756.6,393.9 L757.0,395.0 L757.4,395.4 L757.8,395.0 L758.2,396.7 L758.6,396.8 L759.0,396.1 L759.5,398.1 L759.9,398.3 L760.3,397.1 L760.7,397.7 L761.1,399.1 L761.5,399.5 L761.9,401.0 L762.3,403.3 L762.7,403.8 L763.1,403.3 L763.5,404.4 L763.9,406.5 L764.3,406.4 L764.7,407.3 L765.1,408.3 L765.5,407.8 L765.8,409.9 L766.2,412.1 L766.6,413.1 L767.0,413.3 L767.4,414.1 L767.7,414.1 L768.0,415.9 L768.4,417.4 L768.8,415.0 L769.2,414.3 L769.5,413.8 L769.9,412.1 L770.3,409.1 L770.7,410.3 L771.1,411.6 L771.5,412.6 L771.9,413.0 L772.3,414.1 L772.7,414.1 L773.1,414.5 L773.5,416.8 L773.9,417.4 L774.3,420.2 L774.7,422.6 L775.0,425.6 L775.4,425.8 L775.8,428.4 L776.1,425.0 L776.5,424.3 L776.8,421.6 L777.2,419.2 L777.5,416.0 L777.9,416.4 L778.3,417.3 L778.7,415.9 L779.1,417.1 L779.6,419.2 L780.0,421.2 L780.4,419.5 L780.8,420.1 L781.2,421.8 L781.6,419.8 L782.0,422.0 L782.4,419.8 L782.8,420.7 L783.2,421.9 L783.5,422.0 L783.9,420.9 L784.3,422.2 L784.7,421.5 L785.1,423.7 L785.5,424.1 L785.9,423.2 L786.3,422.9 L786.7,423.3 L787.1,421.0 L787.5,422.9 L787.9,422.5 L788.3,422.1 L788.7,421.0 L789.0,421.6 L789.4,420.6 L789.8,421.1 L790.2,421.4 L790.6,421.2 L791.0,420.9 L791.4,420.3 L791.8,421.5 L792.2,421.7 L792.6,423.5 L793.0,421.9 L793.4,424.6 L793.8,422.8 L794.3,425.6 L794.7,424.9 L795.1,425.0 L795.5,426.9 L795.9,427.0 L796.3,428.0 L796.7,428.6 L797.1,427.6 L797.5,428.3 L798.0,428.3 L798.4,429.0 L798.8,429.4 L799.2,432.0 L799.6,431.0 L800.0,432.5 L800.4,431.9 L800.8,432.5 L801.2,433.6 L801.6,432.9 L802.0,434.2 L802.4,433.5 L802.8,433.9 L803.2,434.4 L803.5,437.6 L803.9,439.3 L804.3,441.7 L804.6,441.4 L805.0,444.9 L805.4,444.5 L805.8,444.5 L806.2,443.7 L806.6,441.2 L807.1,441.6 L807.5,442.2 L807.9,441.6 L808.3,439.4 L808.7,439.5 L809.1,439.2 L809.5,439.4 L809.9,438.6 L810.3,438.7 L810.8,438.1 L811.2,439.2 L811.6,438.8 L812.0,437.4 L812.4,438.0 L812.8,438.9 L813.2,438.3 L813.6,438.1 L814.0,439.4 L814.5,439.0 L814.9,439.3 L815.3,437.9 L815.7,438.9 L816.1,439.8 L816.5,439.4 L816.9,439.1 L817.3,441.1 L817.7,440.5 L818.1,442.6 L818.5,442.8 L819.0,443.6 L819.4,442.4 L819.8,443.8 L820.2,445.0 L820.6,444.9 L821.0,445.9 L821.4,446.5 L821.9,446.4 L822.3,446.1 L822.7,446.6 L823.1,447.0 L823.5,446.4 L824.0,445.9 L824.4,447.2 L824.8,447.6 L825.2,449.2 L825.6,450.8 L826.0,451.7 L826.3,453.5 L826.7,455.3 L827.1,457.4 L827.5,458.6 L827.9,457.8 L828.3,458.3 L828.7,457.4 L829.1,455.8 L829.5,456.1 L829.9,455.0 L830.3,454.5 L830.7,454.0 L831.1,455.6 L831.5,454.5 L831.8,454.8 L832.2,456.0 L832.6,456.9 L833.0,457.3 L833.4,456.7 L833.8,457.1 L834.2,457.0 L834.6,457.1 L835.0,456.8 L835.5,455.9 L835.9,455.4 L836.3,455.5 L836.7,455.4 L837.1,455.9 L837.5,455.8 L837.9,454.8 L838.3,455.3 L838.8,454.3 L839.2,455.5 L839.6,454.5 L840.0,453.8 L840.4,453.9 L840.8,453.8 L841.2,453.7 L841.7,454.1 L842.1,454.5 L842.5,454.5 L842.9,454.8 L843.3,454.5 L843.7,453.0 L844.1,453.1 L844.6,452.8 L845.0,451.2 L845.4,451.1 L845.8,450.4 L846.2,449.7 L846.5,449.8 L846.9,449.1 L847.3,449.4 L847.7,449.0 L848.0,447.9 L848.4,447.0 L848.8,448.0 L849.2,444.7 L849.6,444.3 L850.0,443.6 L850.4,441.0 L850.7,439.6 L851.0,437.8 L851.4,439.6 L851.8,439.6 L852.1,440.5 L852.5,440.5 L852.9,441.2 L853.2,440.9 L853.5,441.8 L853.9,441.8 L854.2,441.3 L854.6,442.8 L855.0,442.8 L855.3,443.4 L855.7,444.4 L856.1,445.3 L856.4,445.6 L856.8,446.4 L857.2,447.6 L857.5,448.2 L857.9,449.3 L858.3,449.4 L858.6,450.0 L859.0,451.0 L859.4,450.5 L859.8,451.8 L860.2,452.2 L860.7,452.6 L861.1,453.8 L861.5,453.8 L861.9,453.8 L862.3,453.2 L862.7,453.7 L863.1,454.7 L863.5,454.6 L863.9,454.8 L864.3,455.8 L864.7,455.6 L865.1,456.3 L865.5,455.8 L865.9,455.9 L866.3,455.3 L866.7,455.4 L867.1,454.8 L867.6,454.2 L868.0,454.2 L868.4,453.0 L868.8,452.8 L869.2,454.0 L869.6,452.8 L870.0,453.5 L870.4,451.5 L870.8,452.3 L871.2,454.0 L871.6,453.0 L872.0,453.2 L872.4,453.1 L872.8,452.5 L873.2,453.0 L873.6,452.6 L874.0,453.0 L874.4,452.7 L874.8,452.1 L875.3,452.2 L875.7,454.7 L876.1,452.7 L876.5,451.6 L876.9,452.4 L877.3,452.2 L877.7,451.0 L878.2,451.0 L878.6,451.1 L879.0,451.0 L879.4,451.0 L879.8,450.8 L880.2,450.8 L880.6,450.8 L881.0,451.2 L881.4,451.2 L881.8,451.3 L882.2,451.9 L882.6,452.3 L883.0,451.1 L883.4,452.4 L883.8,452.0 L884.2,452.6 L884.5,452.3 L884.9,453.9 L885.3,453.7 L885.6,454.4 L886.0,454.2 L886.4,454.7 L886.8,454.5 L887.2,454.5 L887.6,454.2 L888.0,453.8 L888.4,454.6 L888.8,454.8 L889.2,454.8 L889.6,455.0 L890.0,455.0 L890.4,455.1 L890.8,455.1 L891.2,455.2 L891.7,455.2 L892.1,455.2 L892.5,455.2 L892.9,455.2 L893.3,455.2 L893.7,455.3 L894.1,455.4 L894.5,455.5 L894.9,455.5 L895.4,455.5 L895.8,455.6 L896.2,455.6 L896.6,455.5 L897.0,455.6 L897.4,455.6 L897.8,455.5 L898.2,455.7 L898.7,455.6 L899.1,455.5 L899.5,455.6 L899.9,455.6 L900.3,455.7 L900.8,455.7 L901.2,455.6 L901.6,455.7 L902.0,455.6 L902.4,455.5 L902.8,455.6 L903.2,455.5 L903.7,455.5 L904.1,455.5 L904.5,455.5 L904.9,455.5 L905.3,455.4 L905.8,455.5 L906.2,455.4 L906.6,455.3 L907.0,455.5 L907.0,508 L9.5,508 Z" fill="#2196f3" fill-opacity="0.048" stroke="none"/>
<path d="M9.5,460.8 L9.9,460.5 L10.3,460.6 L10.7,460.1 L11.1,460.5 L11.5,461.3 L12.0,461.2 L12.4,461.3 L12.8,461.5 L13.2,460.9 L13.6,461.6 L14.0,462.0 L14.4,461.9 L14.8,461.1 L15.2,461.6 L15.6,461.6 L16.0,461.9 L16.4,461.6 L16.8,461.4 L17.2,461.0 L17.6,460.4 L18.0,461.2 L18.4,461.0 L18.8,461.1 L19.2,461.5 L19.6,460.6 L20.0,460.5 L20.4,461.1 L20.8,460.2 L21.2,459.8 L21.7,459.2 L22.1,459.2 L22.5,459.5 L22.9,460.1 L23.3,459.8 L23.7,459.9 L24.1,458.9 L24.6,458.9 L25.0,458.4 L25.4,458.8 L25.8,459.0 L26.2,459.3 L26.6,459.4 L27.0,460.6 L27.4,460.2 L27.8,460.4 L28.2,460.4 L28.6,460.3 L29.0,461.5 L29.4,460.4 L29.8,461.7 L30.2,461.4 L30.6,461.7 L31.0,461.6 L31.5,461.4 L31.9,461.5 L32.3,462.5 L32.7,462.0 L33.1,463.0 L33.5,462.3 L33.9,462.2 L34.3,462.5 L34.7,462.0 L35.1,462.8 L35.5,462.7 L35.9,462.3 L36.3,461.6 L36.8,462.3 L37.2,462.7 L37.6,461.7 L38.0,461.4 L38.4,462.3 L38.8,462.2 L39.2,462.3 L39.6,462.0 L40.0,461.6 L40.4,462.0 L40.8,462.3 L41.2,462.7 L41.6,461.7 L42.0,461.9 L42.4,462.6 L42.8,462.1 L43.2,462.8 L43.6,462.8 L44.0,462.6 L44.4,462.3 L44.8,462.2 L45.2,462.6 L45.6,463.0 L46.0,463.0 L46.4,462.6 L46.8,462.4 L47.2,461.9 L47.6,462.0 L48.0,462.0 L48.4,462.4 L48.8,461.9 L49.2,462.3 L49.6,462.6 L50.0,462.1 L50.4,462.0 L50.8,462.2 L51.2,462.3 L51.6,462.1 L52.0,461.0 L52.4,460.7 L52.8,461.4 L53.2,461.0 L53.6,460.9 L54.0,461.0 L54.4,460.7 L54.8,460.8 L55.2,460.0 L55.7,459.7 L56.1,459.7 L56.5,459.5 L56.9,459.8 L57.3,460.3 L57.7,458.9 L58.2,459.2 L58.6,459.4 L59.0,458.4 L59.4,458.8 L59.8,458.3 L60.2,458.1 L60.7,457.7 L61.1,457.9 L61.5,457.5 L61.9,457.6 L62.3,457.0 L62.7,457.1 L63.1,457.1 L63.5,457.8 L63.9,457.7 L64.3,457.0 L64.7,458.4 L65.2,458.9 L65.6,458.9 L66.0,459.2 L66.4,459.8 L66.8,459.8 L67.2,459.3 L67.6,458.8 L68.0,459.5 L68.4,458.9 L68.8,460.0 L69.2,459.2 L69.6,459.2 L70.1,459.7 L70.5,459.3 L70.9,459.0 L71.3,459.4 L71.7,459.0 L72.1,458.9 L72.5,458.7 L72.9,459.2 L73.3,459.8 L73.7,459.9 L74.2,460.0 L74.6,459.8 L75.0,460.5 L75.4,460.1 L75.8,460.4 L76.2,460.4 L76.6,460.4 L77.0,459.4 L77.4,459.8 L77.8,459.9 L78.3,459.4 L78.7,460.1 L79.1,459.8 L79.5,459.5 L79.9,460.0 L80.3,460.3 L80.6,461.2 L81.0,461.5 L81.4,461.8 L81.8,461.4 L82.1,461.8 L82.5,462.5 L82.9,463.9 L83.2,466.5 L83.6,468.4 L83.9,470.5 L84.3,472.5 L84.6,472.4 L85.0,471.0 L85.3,469.6 L85.7,469.0 L86.0,468.0 L86.4,467.1 L86.8,466.3 L87.2,465.9 L87.6,465.4 L88.0,464.0 L88.4,463.3 L88.8,462.5 L89.2,462.5 L89.6,462.3 L89.9,462.0 L90.3,460.9 L90.7,461.0 L91.1,460.0 L91.5,459.5 L91.9,459.6 L92.3,459.7 L92.8,459.7 L93.2,460.7 L93.6,460.0 L94.0,460.9 L94.3,461.2 L94.7,461.0 L95.1,461.2 L95.5,461.5 L95.8,461.5 L96.2,462.0 L96.6,462.0 L97.0,462.3 L97.4,461.9 L97.8,462.7 L98.2,463.6 L98.6,462.6 L99.0,462.6 L99.4,463.1 L99.8,463.4 L100.2,463.6 L100.6,463.3 L101.0,464.0 L101.4,463.8 L101.8,464.3 L102.2,464.5 L102.6,465.5 L103.0,464.7 L103.3,465.7 L103.7,465.4 L104.1,466.4 L104.5,465.8 L104.9,466.6 L105.3,467.0 L105.7,467.0 L106.1,467.3 L106.5,467.3 L106.9,467.5 L107.3,467.6 L107.7,467.1 L108.0,467.6 L108.4,467.6 L108.8,468.4 L109.2,468.5 L109.6,468.7 L110.0,468.5 L110.4,468.2 L110.8,468.8 L111.2,469.4 L111.6,468.7 L112.0,469.0 L112.4,469.6 L112.8,469.8 L113.2,469.5 L113.6,470.0 L114.0,470.0 L114.4,470.0 L114.8,471.1 L115.2,471.0 L115.5,471.1 L115.9,472.1 L116.3,472.5 L116.7,472.3 L117.1,471.0 L117.5,470.6 L117.8,470.1 L118.2,469.1 L118.6,469.2 L119.0,468.5 L119.4,468.6 L119.8,469.3 L120.2,468.7 L120.6,469.0 L121.0,469.2 L121.3,470.4 L121.7,469.0 L122.1,469.5 L122.5,469.2 L122.9,469.5 L123.3,469.3 L123.7,470.0 L124.1,470.5 L124.5,470.3 L124.9,470.9 L125.3,470.4 L125.7,471.0 L126.0,471.2 L126.4,471.3 L126.8,471.0 L127.2,470.8 L127.6,470.3 L128.0,471.5 L128.4,471.5 L128.8,472.5 L129.2,471.8 L129.6,472.5 L130.0,472.8 L130.5,473.4 L130.9,473.3 L131.3,473.4 L131.7,473.4 L132.1,474.0 L132.5,474.3 L132.9,473.6 L133.2,473.3 L133.6,473.6 L134.0,473.1 L134.4,472.5 L134.8,471.9 L135.1,472.1 L135.5,471.5 L135.9,471.8 L136.3,472.3 L136.8,472.1 L137.2,471.6 L137.6,471.8 L138.0,472.0 L138.4,471.4 L138.8,471.8 L139.2,472.0 L139.6,471.3 L140.0,471.9 L140.4,471.8 L140.8,471.6 L141.2,471.7 L141.5,472.0 L141.9,471.6 L142.3,471.4 L142.7,472.0 L143.1,472.1 L143.5,471.8 L143.9,471.9 L144.3,472.0 L144.7,472.0 L145.1,471.8 L145.5,471.5 L145.9,471.8 L146.3,472.5 L146.7,472.0 L147.2,472.0 L147.6,471.8 L148.0,471.8 L148.4,471.2 L148.8,471.4 L149.2,471.5 L149.6,471.1 L150.0,471.5 L150.4,471.0 L150.8,470.9 L151.3,470.6 L151.7,470.7 L152.1,470.1 L152.5,470.1 L152.9,470.3 L153.3,469.8 L153.8,469.6 L154.2,469.4 L154.6,469.5 L155.0,468.7 L155.3,467.7 L155.7,467.6 L156.1,467.3 L156.5,466.2 L156.8,466.0 L157.2,464.8 L157.6,465.0 L158.0,464.5 L158.4,465.0 L158.9,465.0 L159.3,465.5 L159.7,465.6 L160.1,465.3 L160.5,466.1 L160.9,465.8 L161.3,466.1 L161.8,466.4 L162.2,466.4 L162.6,466.4 L163.0,466.5 L163.4,466.8 L163.8,466.7 L164.2,466.4 L164.6,466.4 L165.0,466.4 L165.4,465.5 L165.8,466.0 L166.2,466.1 L166.6,465.9 L167.0,466.0 L167.4,465.3 L167.8,465.0 L168.1,464.4 L168.5,464.1 L168.9,463.0 L169.2,463.6 L169.6,462.4 L170.0,462.5 L170.4,463.2 L170.8,464.5 L171.1,465.3 L171.5,466.0 L171.9,465.8 L172.3,465.6 L172.7,466.0 L173.1,465.5 L173.4,465.9 L173.8,465.1 L174.2,466.0 L174.6,465.5 L175.0,465.5 L175.4,465.5 L175.8,465.0 L176.2,465.0 L176.7,465.8 L177.1,465.5 L177.5,465.8 L177.9,466.3 L178.3,465.8 L178.7,466.0 L179.2,465.9 L179.6,465.7 L180.0,466.2 L180.4,466.0 L180.8,466.3 L181.2,466.4 L181.6,466.1 L182.0,465.7 L182.4,465.5 L182.8,465.6 L183.2,464.0 L183.6,465.2 L184.0,464.9 L184.4,465.2 L184.8,464.8 L185.2,465.5 L185.6,464.1 L186.0,464.5 L186.4,464.9 L186.8,464.7 L187.2,463.7 L187.6,463.5 L188.0,463.0 L188.4,463.4 L188.8,463.7 L189.2,463.2 L189.6,463.5 L190.0,463.0 L190.4,463.1 L190.8,462.9 L191.2,462.3 L191.6,463.6 L192.0,462.5 L192.3,459.6 L192.6,456.5 L193.0,459.6 L193.4,463.2 L193.8,463.4 L194.2,463.3 L194.7,463.5 L195.1,463.9 L195.5,464.3 L195.9,464.4 L196.3,463.9 L196.7,463.5 L197.1,462.6 L197.4,462.5 L197.8,462.0 L198.2,462.0 L198.6,458.5 L198.9,454.5 L199.2,457.1 L199.5,460.5 L199.8,463.0 L200.2,463.4 L200.6,463.8 L201.0,464.8 L201.4,465.4 L201.8,465.3 L202.2,466.2 L202.6,467.0 L202.9,464.1 L203.3,462.0 L203.6,460.0 L204.0,458.1 L204.3,457.3 L204.7,455.4 L205.0,453.1 L205.4,452.5 L205.7,455.3 L206.0,458.1 L206.3,461.0 L206.7,460.4 L207.1,460.8 L207.5,460.4 L207.9,459.9 L208.4,459.9 L208.8,459.7 L209.2,459.1 L209.6,458.9 L210.0,458.5 L210.4,458.2 L210.8,458.4 L211.2,458.7 L211.6,458.6 L212.0,458.9 L212.4,457.7 L212.8,458.2 L213.2,458.0 L213.6,457.9 L214.0,457.5 L214.4,457.6 L214.8,457.7 L215.2,457.6 L215.6,457.5 L216.0,457.5 L216.4,458.1 L216.8,457.7 L217.2,458.5 L217.6,458.7 L218.0,458.5 L218.4,458.6 L218.8,458.5 L219.2,458.7 L219.6,458.8 L220.0,458.3 L220.4,458.5 L220.8,458.4 L221.2,458.3 L221.6,458.5 L222.0,457.4 L222.4,456.3 L222.8,456.0 L223.2,455.6 L223.6,454.5 L224.0,454.0 L224.4,452.0 L224.8,450.1 L225.1,449.8 L225.5,447.6 L225.9,443.0 L226.3,439.4 L226.7,436.2 L227.1,432.1 L227.5,427.0 L227.9,424.5 L228.3,419.4 L228.7,399.7 L229.0,380.0 L229.3,361.5 L229.7,362.4 L230.1,362.2 L230.5,360.4 L230.9,360.0 L231.3,360.5 L231.7,363.9 L232.1,367.7 L232.5,372.0 L232.8,376.2 L233.2,380.4 L233.5,384.4 L233.8,388.0 L234.2,389.8 L234.6,392.7 L235.0,394.3 L235.4,395.4 L235.8,397.3 L236.2,398.5 L236.6,392.3 L237.0,386.2 L237.4,380.0 L237.8,379.8 L238.2,379.3 L238.6,378.5 L238.9,378.7 L239.3,380.6 L239.7,380.2 L240.0,381.0 L240.3,388.5 L240.6,396.0 L241.0,394.6 L241.4,392.8 L241.7,391.2 L242.1,391.1 L242.5,390.0 L242.9,388.7 L243.3,386.9 L243.7,384.3 L244.0,382.9 L244.4,379.4 L244.8,378.5 L245.1,381.1 L245.5,383.4 L245.8,383.9 L246.2,385.8 L246.5,388.0 L246.9,389.1 L247.3,389.6 L247.7,392.2 L248.1,392.1 L248.4,395.1 L248.8,395.0 L249.2,395.2 L249.6,398.0 L250.0,397.4 L250.4,397.6 L250.8,397.0 L251.2,397.7 L251.6,397.5 L252.0,398.0 L252.3,389.2 L252.7,380.5 L253.1,380.9 L253.5,380.7 L253.9,380.3 L254.3,381.3 L254.7,380.5 L255.1,380.0 L255.4,384.5 L255.7,388.2 L256.0,392.0 L256.4,390.3 L256.8,389.2 L257.1,387.2 L257.5,386.0 L257.8,385.3 L258.2,382.0 L258.5,381.7 L258.9,380.2 L259.2,377.5 L259.6,380.4 L259.9,383.7 L260.3,386.0 L260.6,389.1 L261.0,389.3 L261.3,392.0 L261.7,392.0 L262.1,391.8 L262.5,393.2 L262.9,392.5 L263.3,392.0 L263.6,390.1 L264.0,386.2 L264.4,383.4 L264.7,381.0 L265.0,373.0 L265.4,365.0 L265.8,361.5 L266.1,360.6 L266.4,357.4 L266.8,355.0 L267.1,352.7 L267.5,352.1 L267.8,349.9 L268.2,348.5 L268.5,347.0 L268.8,345.5 L269.2,343.0 L269.5,342.0 L269.9,341.7 L270.2,341.0 L270.5,355.0 L270.9,369.0 L271.3,365.4 L271.7,361.6 L272.1,358.6 L272.5,355.0 L272.9,353.8 L273.2,349.2 L273.6,346.4 L273.9,345.8 L274.3,343.0 L274.7,348.1 L275.0,350.7 L275.4,354.0 L275.7,358.3 L276.1,362.9 L276.4,365.0 L276.8,361.8 L277.1,360.1 L277.5,355.0 L277.8,352.5 L278.2,352.6 L278.5,349.5 L278.8,356.2 L279.0,363.0 L279.4,323.0 L279.4,258.8 L279.5,234.0 L279.9,234.0 L280.2,231.0 L280.5,223.2 L280.9,215.5 L281.2,207.8 L281.5,200.0 L281.9,192.0 L282.3,184.0 L282.6,190.5 L283.0,197.0 L283.3,190.0 L283.6,183.0 L284.0,194.0 L284.3,205.0 L284.6,195.5 L285.0,186.0 L285.3,194.5 L285.6,203.0 L286.0,186.5 L286.3,170.0 L286.6,160.0 L286.8,150.0 L287.0,134.4 L287.4,134.4 L287.8,134.3 L288.1,134.3 L288.5,134.2 L288.9,134.2 L289.2,150.0 L289.5,172.0 L289.9,181.5 L290.2,191.0 L290.5,184.5 L290.8,178.0 L291.1,196.5 L291.3,215.0 L291.6,219.5 L291.9,224.0 L292.2,210.5 L292.5,197.0 L292.9,191.6 L293.2,188.0 L293.6,198.0 L294.0,208.0 L294.3,201.0 L294.6,194.0 L295.0,203.5 L295.4,213.0 L295.8,211.6 L296.2,203.0 L296.6,219.0 L297.0,235.0 L297.3,248.2 L297.7,261.3 L298.0,274.5 L298.3,264.7 L298.7,254.8 L299.0,245.0 L299.3,236.8 L299.6,228.5 L300.0,220.2 L300.3,212.0 L300.7,214.2 L301.1,214.8 L301.5,217.0 L301.8,214.4 L302.1,215.3 L302.5,211.7 L302.8,212.5 L303.1,219.0 L303.4,225.5 L303.7,232.0 L304.1,234.7 L304.4,239.2 L304.8,243.9 L305.1,251.0 L305.5,249.6 L305.8,245.9 L306.1,243.0 L306.5,240.0 L306.9,236.5 L307.2,232.4 L307.5,229.1 L307.9,228.0 L308.2,231.2 L308.5,234.2 L308.9,237.1 L309.2,243.0 L309.6,241.8 L309.9,243.9 L310.3,240.6 L310.7,238.7 L311.0,239.1 L311.4,240.0 L311.8,239.9 L312.2,242.3 L312.6,243.4 L313.0,245.8 L313.4,248.5 L313.8,247.2 L314.2,245.6 L314.6,246.8 L314.9,243.8 L315.3,245.9 L315.7,242.6 L316.1,240.0 L316.5,242.8 L316.8,245.9 L317.1,252.8 L317.5,254.0 L317.9,257.0 L318.2,256.3 L318.6,257.6 L319.0,259.1 L319.3,258.1 L319.7,259.5 L320.1,261.5 L320.5,262.7 L320.8,266.2 L321.2,267.0 L321.6,267.7 L322.0,267.5 L322.3,269.3 L322.6,270.6 L323.0,273.2 L323.4,269.5 L323.7,265.8 L324.0,262.8 L324.4,259.5 L324.8,256.3 L325.2,255.4 L325.5,252.5 L325.9,251.4 L326.3,251.2 L326.7,254.5 L327.1,257.1 L327.5,262.4 L327.9,265.0 L328.2,231.5 L328.5,198.0 L328.9,197.3 L329.2,199.9 L329.5,202.5 L329.9,203.8 L330.3,205.9 L330.7,206.0 L331.1,205.5 L331.6,204.4 L332.0,204.2 L332.4,204.0 L332.7,212.7 L333.1,221.3 L333.4,230.0 L333.8,231.3 L334.2,233.8 L334.6,234.6 L335.0,236.5 L335.4,238.0 L335.8,233.1 L336.2,227.5 L336.6,223.7 L337.0,220.9 L337.4,222.9 L337.8,224.1 L338.2,226.2 L338.6,228.3 L338.9,230.3 L339.3,231.1 L339.7,231.5 L340.1,233.3 L340.5,232.8 L340.9,228.8 L341.3,228.5 L341.6,229.5 L342.0,226.3 L342.4,223.8 L342.8,220.7 L343.2,220.9 L343.6,222.5 L344.0,225.3 L344.4,228.0 L344.8,225.1 L345.1,225.5 L345.5,229.0 L345.9,234.9 L346.3,230.2 L346.7,231.0 L347.1,226.3 L347.5,228.3 L347.9,223.9 L348.2,222.0 L348.6,222.9 L349.0,216.9 L349.4,217.8 L349.8,214.0 L350.2,218.9 L350.6,216.7 L350.9,220.2 L351.3,218.4 L351.7,220.3 L352.1,218.6 L352.5,220.9 L352.9,220.5 L353.2,222.7 L353.6,220.2 L354.0,224.3 L354.4,226.0 L354.8,228.8 L355.1,226.4 L355.5,227.1 L355.9,226.6 L356.3,230.5 L356.7,228.7 L357.1,232.7 L357.4,232.9 L357.8,232.2 L358.2,236.8 L358.6,237.9 L359.0,235.5 L359.4,234.9 L359.8,234.2 L360.1,234.5 L360.5,234.8 L360.9,231.3 L361.3,234.0 L361.7,233.3 L362.1,237.0 L362.5,237.4 L362.9,242.3 L363.2,242.0 L363.6,246.6 L364.0,248.8 L364.4,252.4 L364.8,254.9 L365.2,254.4 L365.6,251.4 L366.0,252.9 L366.4,252.2 L366.7,250.0 L367.1,249.2 L367.5,249.9 L367.9,251.8 L368.3,255.1 L368.7,250.6 L369.1,257.1 L369.4,258.3 L369.8,259.7 L370.2,259.7 L370.6,265.2 L371.0,264.2 L371.4,260.2 L371.8,259.3 L372.2,257.1 L372.6,258.0 L373.0,256.6 L373.4,256.7 L373.8,258.7 L374.2,255.3 L374.6,250.2 L375.0,252.5 L375.4,253.1 L375.7,255.7 L376.1,259.4 L376.5,257.8 L376.8,263.2 L377.2,264.2 L377.6,265.7 L378.0,261.7 L378.4,262.9 L378.8,261.6 L379.1,263.4 L379.5,263.9 L379.9,260.7 L380.3,261.1 L380.7,261.9 L381.1,261.8 L381.5,264.8 L381.9,267.2 L382.2,267.6 L382.6,269.0 L383.0,272.4 L383.4,273.5 L383.8,273.8 L384.2,275.3 L384.6,273.1 L384.9,272.7 L385.3,275.8 L385.7,274.7 L386.1,275.6 L386.5,279.6 L386.9,280.3 L387.3,280.8 L387.7,281.9 L388.1,284.4 L388.4,287.5 L388.8,290.8 L389.2,289.6 L389.6,293.6 L390.0,290.9 L390.4,287.9 L390.8,291.5 L391.2,290.9 L391.6,286.2 L392.0,285.0 L392.4,285.3 L392.8,281.8 L393.2,283.2 L393.6,281.2 L394.0,285.0 L394.4,284.4 L394.9,286.6 L395.3,290.4 L395.7,292.0 L396.1,290.1 L396.5,290.9 L396.9,295.7 L397.2,294.7 L397.6,293.9 L398.0,297.0 L398.4,294.3 L398.8,296.6 L399.2,295.6 L399.6,294.0 L400.0,298.2 L400.4,299.5 L400.7,296.4 L401.1,296.4 L401.5,297.7 L401.9,295.1 L402.3,299.8 L402.7,302.1 L403.1,306.8 L403.5,313.6 L403.9,314.2 L404.3,315.8 L404.7,314.7 L405.1,316.4 L405.4,317.0 L405.8,319.2 L406.2,320.4 L406.6,322.9 L407.0,323.5 L407.4,323.3 L407.8,327.3 L408.2,327.7 L408.7,329.0 L409.1,329.5 L409.5,332.5 L409.9,332.2 L410.3,333.7 L410.7,331.2 L411.1,329.8 L411.5,330.4 L411.9,329.5 L412.3,327.8 L412.7,326.0 L413.1,323.2 L413.5,318.0 L413.9,316.9 L414.3,310.0 L414.7,309.4 L415.1,310.2 L415.6,311.0 L416.0,308.3 L416.4,308.5 L416.8,308.7 L417.2,312.8 L417.5,314.1 L417.9,315.8 L418.3,319.8 L418.7,320.9 L419.1,320.9 L419.5,321.5 L419.9,321.8 L420.4,325.2 L420.8,323.6 L421.2,325.8 L421.6,323.5 L422.0,326.0 L422.4,328.1 L422.8,326.3 L423.3,327.6 L423.7,327.5 L424.1,327.1 L424.5,326.6 L424.9,328.1 L425.3,330.0 L425.8,335.5 L426.2,334.1 L426.6,333.7 L427.0,333.8 L427.3,330.6 L427.7,332.3 L428.1,329.4 L428.4,327.8 L428.8,326.0 L429.2,327.1 L429.6,327.4 L430.0,328.8 L430.4,329.3 L430.7,330.9 L431.1,331.9 L431.5,331.3 L431.9,335.3 L432.3,335.4 L432.7,337.2 L433.1,337.4 L433.5,340.9 L433.9,340.8 L434.3,340.2 L434.7,338.8 L435.1,340.6 L435.5,341.8 L435.9,344.6 L436.3,343.2 L436.6,340.4 L437.0,337.6 L437.4,337.7 L437.7,335.2 L438.1,333.7 L438.5,336.5 L438.9,336.7 L439.3,337.8 L439.6,336.0 L440.0,339.6 L440.4,341.2 L440.8,343.1 L441.2,344.6 L441.6,343.0 L442.0,343.0 L442.4,340.1 L442.8,340.0 L443.2,339.0 L443.6,338.4 L444.0,340.5 L444.4,341.9 L444.8,345.5 L445.1,348.0 L445.5,347.3 L445.9,346.6 L446.3,351.2 L446.7,352.3 L447.1,352.6 L447.5,350.3 L447.9,350.3 L448.2,351.1 L448.6,348.7 L449.0,349.7 L449.4,351.0 L449.8,350.7 L450.2,352.2 L450.6,353.1 L451.0,353.5 L451.4,353.7 L451.7,354.0 L452.1,356.3 L452.5,355.5 L452.9,356.5 L453.3,351.4 L453.7,347.1 L454.1,343.2 L454.5,338.4 L454.9,337.0 L455.2,338.5 L455.6,339.1 L455.9,340.2 L456.2,339.6 L456.6,338.4 L457.0,337.1 L457.4,333.3 L457.7,330.1 L458.1,329.5 L458.5,322.9 L458.8,325.0 L459.2,321.3 L459.5,320.0 L459.9,313.7 L460.3,310.5 L460.6,312.2 L461.0,318.0 L461.4,312.2 L461.8,306.5 L462.2,308.8 L462.6,316.0 L463.0,311.2 L463.3,308.6 L463.7,306.8 L464.0,309.8 L464.3,312.8 L464.6,317.5 L465.0,317.7 L465.3,320.5 L465.7,320.1 L466.1,320.7 L466.5,323.8 L466.9,323.8 L467.2,323.5 L467.6,321.2 L468.0,324.7 L468.4,326.0 L468.8,325.1 L469.2,328.6 L469.6,331.6 L469.9,331.3 L470.3,333.5 L470.7,332.5 L471.1,334.1 L471.5,335.3 L471.9,336.9 L472.3,336.1 L472.7,336.7 L473.1,336.3 L473.4,337.6 L473.8,339.0 L474.2,339.4 L474.6,338.4 L475.0,338.9 L475.4,337.0 L475.8,335.0 L476.1,334.4 L476.5,332.6 L476.9,330.4 L477.3,330.0 L477.7,327.6 L478.0,322.6 L478.3,317.5 L478.6,312.5 L478.9,317.5 L479.3,319.3 L479.6,322.0 L479.9,319.2 L480.2,313.8 L480.5,310.0 L480.8,316.5 L481.2,316.4 L481.5,321.0 L481.8,318.3 L482.2,312.9 L482.5,311.5 L482.8,316.5 L483.2,319.1 L483.5,320.5 L483.8,316.3 L484.2,311.3 L484.5,308.5 L484.8,309.0 L485.2,312.4 L485.5,316.0 L485.8,310.9 L486.2,305.6 L486.5,304.0 L486.8,300.5 L487.2,298.1 L487.5,299.0 L487.9,291.9 L488.3,289.5 L488.6,290.8 L489.0,293.1 L489.3,297.0 L489.6,292.3 L490.0,289.8 L490.3,283.0 L490.6,288.1 L491.0,288.8 L491.3,290.0 L491.7,287.9 L492.0,285.5 L492.4,279.5 L492.7,279.8 L493.1,282.3 L493.4,283.0 L493.8,280.4 L494.2,276.0 L494.5,274.3 L494.9,273.2 L495.2,277.5 L495.6,279.0 L496.0,281.2 L496.4,285.0 L496.8,293.0 L497.2,301.0 L497.5,295.2 L497.9,290.7 L498.2,290.5 L498.5,292.3 L498.9,299.1 L499.2,303.0 L499.5,300.7 L499.9,300.5 L500.2,293.8 L500.5,291.5 L500.9,293.6 L501.2,293.3 L501.6,298.3 L502.0,300.0 L502.4,296.4 L502.8,298.5 L503.1,293.1 L503.5,292.5 L503.9,294.5 L504.2,297.5 L504.6,299.6 L505.0,302.0 L505.3,299.3 L505.6,298.5 L506.0,295.3 L506.3,294.5 L506.6,298.5 L506.9,302.5 L507.2,307.0 L507.6,311.0 L507.9,313.2 L508.2,315.6 L508.6,319.0 L509.0,321.8 L509.3,323.7 L509.7,325.3 L510.1,327.4 L510.4,327.8 L510.8,331.0 L511.2,333.5 L511.6,332.0 L512.0,332.2 L512.4,332.4 L512.7,332.2 L513.1,333.0 L513.5,334.1 L513.9,334.1 L514.3,333.2 L514.7,329.6 L515.1,329.6 L515.5,327.9 L515.9,327.6 L516.3,326.0 L516.7,328.5 L517.1,324.1 L517.5,324.4 L517.9,321.7 L518.3,324.4 L518.7,323.7 L519.1,326.9 L519.5,328.1 L519.8,330.5 L520.2,333.8 L520.6,332.5 L521.0,334.1 L521.4,334.3 L521.8,332.6 L522.2,333.7 L522.6,334.5 L523.1,334.3 L523.5,335.5 L523.9,336.7 L524.3,337.8 L524.7,338.7 L525.1,339.9 L525.5,333.1 L525.9,332.9 L526.2,331.1 L526.6,332.1 L527.0,329.9 L527.4,327.2 L527.8,331.0 L528.2,331.2 L528.6,332.0 L529.0,332.7 L529.4,330.6 L529.8,328.4 L530.1,330.4 L530.5,328.1 L530.9,332.3 L531.3,329.7 L531.7,327.6 L532.1,328.9 L532.5,329.5 L532.9,333.8 L533.3,332.4 L533.8,328.9 L534.2,330.3 L534.6,329.0 L535.0,333.5 L535.4,333.8 L535.8,337.8 L536.3,334.6 L536.7,339.2 L537.1,335.6 L537.5,338.4 L537.9,342.3 L538.3,340.6 L538.7,343.1 L539.2,343.9 L539.6,346.3 L540.0,345.8 L540.4,344.5 L540.8,344.9 L541.2,346.2 L541.6,343.0 L542.0,342.8 L542.4,345.0 L542.8,346.3 L543.2,347.7 L543.6,343.1 L544.0,341.9 L544.4,340.6 L544.8,341.8 L545.2,338.2 L545.6,341.3 L546.0,339.4 L546.3,344.0 L546.7,340.1 L547.1,342.6 L547.5,340.3 L547.9,343.4 L548.3,341.7 L548.7,344.3 L549.1,346.0 L549.5,343.1 L549.8,344.6 L550.2,341.4 L550.6,337.7 L551.0,340.3 L551.4,341.4 L551.8,338.2 L552.2,343.2 L552.5,347.3 L552.9,343.2 L553.3,345.0 L553.7,345.4 L554.1,344.9 L554.5,349.8 L554.9,349.8 L555.3,351.0 L555.7,351.5 L556.0,355.5 L556.4,350.2 L556.8,353.2 L557.2,354.2 L557.6,354.2 L558.0,358.1 L558.5,357.6 L558.9,360.0 L559.3,360.3 L559.7,362.4 L560.1,358.3 L560.5,362.9 L561.0,360.0 L561.4,360.4 L561.8,361.9 L562.2,358.5 L562.6,363.1 L563.0,359.9 L563.4,360.0 L563.9,359.5 L564.3,363.8 L564.7,363.6 L565.1,365.3 L565.5,365.0 L565.9,362.4 L566.3,364.1 L566.7,363.9 L567.1,366.1 L567.5,364.2 L568.0,363.6 L568.4,363.6 L568.8,358.8 L569.2,363.1 L569.6,361.9 L570.0,361.3 L570.4,364.8 L570.9,363.9 L571.3,364.7 L571.7,362.9 L572.1,361.1 L572.5,360.3 L572.9,357.1 L573.4,358.0 L573.8,359.4 L574.2,358.8 L574.6,359.1 L575.0,363.7 L575.4,364.4 L575.8,367.0 L576.1,367.1 L576.5,365.5 L576.9,365.1 L577.3,366.6 L577.7,369.3 L578.1,365.9 L578.5,370.9 L578.9,369.7 L579.4,370.8 L579.8,370.3 L580.2,369.9 L580.6,370.7 L581.0,372.7 L581.4,371.3 L581.8,372.5 L582.2,374.8 L582.6,378.0 L583.0,376.3 L583.4,377.1 L583.8,380.1 L584.2,379.8 L584.6,381.2 L585.0,382.0 L585.4,385.2 L585.8,384.4 L586.2,384.5 L586.5,386.3 L586.9,385.7 L587.3,387.1 L587.7,386.6 L588.1,389.7 L588.5,388.6 L588.9,393.9 L589.3,396.7 L589.7,395.2 L590.0,396.9 L590.4,397.1 L590.8,398.5 L591.2,400.6 L591.6,395.2 L592.0,395.6 L592.4,390.6 L592.8,389.6 L593.1,390.1 L593.5,386.7 L593.9,381.5 L594.3,380.0 L594.7,374.1 L595.1,379.8 L595.5,379.5 L595.8,378.8 L596.2,372.9 L596.6,373.8 L597.0,376.7 L597.4,373.5 L597.8,375.5 L598.1,373.6 L598.5,378.4 L598.8,377.8 L599.1,378.9 L599.5,383.0 L599.9,381.0 L600.3,385.0 L600.8,384.1 L601.2,385.4 L601.6,388.9 L602.0,389.7 L602.4,390.5 L602.8,389.7 L603.2,386.0 L603.5,386.3 L603.9,389.2 L604.3,385.4 L604.7,385.6 L605.1,388.2 L605.5,390.3 L605.9,392.6 L606.3,393.0 L606.7,393.7 L607.0,396.9 L607.4,396.8 L607.8,398.2 L608.2,399.0 L608.6,400.8 L609.0,405.3 L609.5,406.9 L609.9,405.7 L610.3,407.7 L610.7,412.5 L611.1,410.7 L611.5,412.5 L611.9,411.2 L612.3,411.5 L612.8,408.1 L613.2,411.4 L613.6,408.6 L614.0,408.0 L614.4,408.3 L614.8,406.0 L615.2,405.9 L615.6,404.7 L616.0,405.0 L616.3,405.2 L616.7,406.6 L617.1,404.2 L617.5,400.6 L617.9,400.6 L618.3,400.3 L618.7,397.0 L619.0,395.0 L619.4,396.9 L619.8,397.5 L620.2,392.7 L620.6,392.8 L621.0,391.2 L621.4,395.0 L621.7,398.8 L622.1,396.9 L622.5,398.8 L622.9,401.3 L623.2,401.5 L623.6,402.1 L624.0,402.0 L624.4,402.6 L624.7,397.4 L625.1,394.5 L625.5,395.4 L625.9,396.3 L626.3,393.9 L626.6,391.8 L627.0,391.1 L627.4,389.5 L627.8,389.3 L628.1,388.6 L628.5,385.5 L628.9,384.8 L629.3,389.2 L629.6,387.8 L630.0,387.0 L630.4,387.0 L630.8,388.6 L631.2,389.7 L631.6,390.1 L632.0,392.6 L632.3,389.5 L632.7,392.6 L633.1,395.0 L633.5,394.4 L633.9,393.2 L634.3,396.0 L634.7,392.0 L635.1,397.3 L635.5,399.6 L636.0,400.0 L636.4,400.2 L636.8,402.4 L637.2,403.4 L637.6,403.7 L638.0,403.1 L638.4,403.6 L638.7,402.4 L639.1,399.8 L639.5,400.5 L639.9,398.8 L640.2,399.0 L640.6,402.1 L641.0,397.7 L641.4,401.2 L641.8,397.8 L642.2,400.8 L642.6,399.5 L643.0,399.4 L643.3,399.9 L643.7,400.5 L644.1,398.0 L644.5,397.1 L644.9,396.0 L645.3,397.5 L645.7,393.5 L646.1,395.4 L646.5,394.3 L646.8,391.1 L647.2,389.5 L647.6,391.8 L648.0,389.9 L648.4,386.6 L648.8,384.6 L649.2,377.9 L649.6,379.2 L650.0,381.0 L650.3,379.7 L650.7,377.9 L651.1,378.6 L651.5,374.3 L651.9,378.8 L652.3,378.9 L652.7,379.1 L653.0,380.1 L653.4,380.8 L653.8,384.1 L654.2,384.1 L654.6,386.6 L655.0,387.2 L655.4,383.6 L655.8,382.4 L656.2,386.0 L656.7,382.3 L657.1,383.3 L657.5,385.7 L657.9,384.8 L658.3,383.6 L658.7,383.5 L659.1,380.7 L659.5,386.5 L659.9,386.9 L660.3,386.6 L660.7,386.4 L661.1,389.1 L661.5,385.0 L661.9,386.4 L662.3,388.2 L662.7,386.7 L663.1,389.2 L663.5,390.5 L663.8,393.5 L664.2,391.2 L664.6,390.1 L665.0,391.4 L665.4,391.3 L665.8,391.7 L666.2,393.9 L666.6,390.4 L667.0,388.5 L667.3,385.4 L667.7,384.0 L668.1,382.6 L668.5,383.6 L668.9,383.3 L669.3,383.9 L669.7,385.5 L670.0,388.2 L670.4,390.2 L670.8,393.1 L671.2,392.4 L671.6,392.8 L672.0,396.2 L672.4,397.8 L672.8,396.0 L673.2,393.0 L673.5,396.8 L673.9,397.2 L674.3,400.0 L674.7,402.1 L675.1,405.6 L675.5,402.9 L676.0,402.4 L676.4,399.9 L676.8,401.1 L677.2,402.0 L677.6,401.5 L678.0,404.0 L678.5,403.2 L678.9,402.9 L679.3,403.7 L679.7,402.8 L680.1,402.6 L680.6,401.4 L681.0,402.0 L681.4,399.9 L681.8,398.8 L682.2,398.7 L682.6,397.1 L683.1,396.2 L683.5,397.5 L683.9,395.9 L684.3,396.0 L684.7,394.3 L685.1,398.4 L685.5,398.4 L685.9,398.3 L686.2,396.8 L686.6,399.4 L687.0,398.1 L687.4,400.1 L687.8,401.6 L688.2,399.1 L688.6,402.1 L689.0,400.1 L689.4,399.1 L689.8,401.3 L690.2,401.1 L690.5,398.2 L690.9,398.4 L691.3,401.4 L691.7,397.5 L692.1,400.0 L692.5,399.7 L692.8,398.9 L693.2,401.9 L693.6,402.5 L694.0,400.9 L694.3,405.5 L694.7,406.7 L695.1,405.8 L695.5,403.9 L695.9,405.9 L696.3,408.6 L696.7,408.1 L697.1,405.5 L697.6,405.3 L698.0,406.3 L698.4,405.3 L698.8,407.3 L699.2,406.1 L699.6,406.3 L700.0,405.2 L700.4,406.7 L700.8,404.9 L701.1,407.5 L701.5,407.0 L701.9,405.5 L702.3,405.7 L702.7,407.0 L703.0,408.0 L703.4,407.8 L703.8,407.8 L704.2,408.2 L704.6,406.5 L705.0,406.1 L705.4,403.8 L705.8,403.6 L706.3,401.9 L706.7,402.6 L707.1,400.4 L707.5,398.2 L707.9,398.1 L708.2,397.2 L708.6,392.4 L708.9,389.0 L709.3,388.5 L709.7,388.1 L710.1,391.7 L710.5,395.0 L710.8,396.1 L711.2,399.0 L711.6,400.6 L712.0,402.3 L712.4,401.0 L712.8,401.3 L713.2,403.0 L713.6,401.5 L714.0,401.3 L714.4,401.0 L714.8,401.5 L715.1,402.4 L715.5,400.3 L715.9,401.2 L716.3,402.7 L716.7,403.7 L717.1,400.8 L717.5,400.9 L717.9,400.2 L718.3,399.6 L718.7,401.8 L719.1,401.1 L719.5,401.5 L719.9,401.0 L720.2,401.4 L720.6,401.0 L721.0,399.2 L721.4,400.1 L721.8,398.2 L722.2,398.5 L722.6,396.6 L723.0,398.1 L723.4,397.8 L723.8,398.1 L724.2,399.7 L724.6,401.6 L725.0,400.8 L725.5,401.2 L725.9,400.8 L726.3,403.2 L726.7,402.8 L727.1,402.3 L727.5,402.2 L727.9,399.2 L728.4,399.5 L728.8,397.6 L729.2,397.9 L729.6,397.4 L730.0,398.3 L730.5,396.0 L730.9,393.5 L731.3,395.4 L731.7,396.0 L732.1,395.9 L732.5,395.4 L732.9,395.8 L733.3,397.7 L733.8,399.1 L734.2,398.7 L734.6,400.7 L735.0,400.1 L735.4,399.5 L735.8,399.8 L736.2,400.2 L736.6,397.1 L737.0,397.3 L737.5,397.8 L737.9,397.9 L738.3,398.9 L738.7,396.5 L739.1,396.3 L739.5,395.4 L739.9,394.8 L740.3,394.0 L740.7,394.0 L741.1,391.7 L741.6,392.3 L742.0,390.7 L742.4,393.0 L742.8,391.3 L743.2,393.8 L743.5,394.7 L743.9,397.1 L744.3,396.5 L744.6,399.4 L745.0,398.1 L745.4,395.4 L745.8,400.7 L746.2,399.9 L746.6,404.0 L747.0,405.1 L747.4,404.6 L747.8,406.4 L748.2,406.4 L748.6,401.8 L749.0,400.5 L749.3,398.9 L749.7,399.0 L750.1,397.8 L750.5,394.0 L750.9,395.6 L751.3,395.2 L751.7,392.8 L752.1,392.3 L752.5,390.5 L753.0,392.2 L753.4,392.1 L753.8,394.5 L754.2,391.5 L754.6,391.3 L755.0,394.0 L755.4,395.5 L755.8,394.2 L756.2,393.2 L756.6,393.9 L757.0,395.0 L757.4,395.4 L757.8,395.0 L758.2,396.7 L758.6,396.8 L759.0,396.1 L759.5,398.1 L759.9,398.3 L760.3,397.1 L760.7,397.7 L761.1,399.1 L761.5,399.5 L761.9,401.0 L762.3,403.3 L762.7,403.8 L763.1,403.3 L763.5,404.4 L763.9,406.5 L764.3,406.4 L764.7,407.3 L765.1,408.3 L765.5,407.8 L765.8,409.9 L766.2,412.1 L766.6,413.1 L767.0,413.3 L767.4,414.1 L767.7,414.1 L768.0,415.9 L768.4,417.4 L768.8,415.0 L769.2,414.3 L769.5,413.8 L769.9,412.1 L770.3,409.1 L770.7,410.3 L771.1,411.6 L771.5,412.6 L771.9,413.0 L772.3,414.1 L772.7,414.1 L773.1,414.5 L773.5,416.8 L773.9,417.4 L774.3,420.2 L774.7,422.6 L775.0,425.6 L775.4,425.8 L775.8,428.4 L776.1,425.0 L776.5,424.3 L776.8,421.6 L777.2,419.2 L777.5,416.0 L777.9,416.4 L778.3,417.3 L778.7,415.9 L779.1,417.1 L779.6,419.2 L780.0,421.2 L780.4,419.5 L780.8,420.1 L781.2,421.8 L781.6,419.8 L782.0,422.0 L782.4,419.8 L782.8,420.7 L783.2,421.9 L783.5,422.0 L783.9,420.9 L784.3,422.2 L784.7,421.5 L785.1,423.7 L785.5,424.1 L785.9,423.2 L786.3,422.9 L786.7,423.3 L787.1,421.0 L787.5,422.9 L787.9,422.5 L788.3,422.1 L788.7,421.0 L789.0,421.6 L789.4,420.6 L789.8,421.1 L790.2,421.4 L790.6,421.2 L791.0,420.9 L791.4,420.3 L791.8,421.5 L792.2,421.7 L792.6,423.5 L793.0,421.9 L793.4,424.6 L793.8,422.8 L794.3,425.6 L794.7,424.9 L795.1,425.0 L795.5,426.9 L795.9,427.0 L796.3,428.0 L796.7,428.6 L797.1,427.6 L797.5,428.3 L798.0,428.3 L798.4,429.0 L798.8,429.4 L799.2,432.0 L799.6,431.0 L800.0,432.5 L800.4,431.9 L800.8,432.5 L801.2,433.6 L801.6,432.9 L802.0,434.2 L802.4,433.5 L802.8,433.9 L803.2,434.4 L803.5,437.6 L803.9,439.3 L804.3,441.7 L804.6,441.4 L805.0,444.9 L805.4,444.5 L805.8,444.5 L806.2,443.7 L806.6,441.2 L807.1,441.6 L807.5,442.2 L807.9,441.6 L808.3,439.4 L808.7,439.5 L809.1,439.2 L809.5,439.4 L809.9,438.6 L810.3,438.7 L810.8,438.1 L811.2,439.2 L811.6,438.8 L812.0,437.4 L812.4,438.0 L812.8,438.9 L813.2,438.3 L813.6,438.1 L814.0,439.4 L814.5,439.0 L814.9,439.3 L815.3,437.9 L815.7,438.9 L816.1,439.8 L816.5,439.4 L816.9,439.1 L817.3,441.1 L817.7,440.5 L818.1,442.6 L818.5,442.8 L819.0,443.6 L819.4,442.4 L819.8,443.8 L820.2,445.0 L820.6,444.9 L821.0,445.9 L821.4,446.5 L821.9,446.4 L822.3,446.1 L822.7,446.6 L823.1,447.0 L823.5,446.4 L824.0,445.9 L824.4,447.2 L824.8,447.6 L825.2,449.2 L825.6,450.8 L826.0,451.7 L826.3,453.5 L826.7,455.3 L827.1,457.4 L827.5,458.6 L827.9,457.8 L828.3,458.3 L828.7,457.4 L829.1,455.8 L829.5,456.1 L829.9,455.0 L830.3,454.5 L830.7,454.0 L831.1,455.6 L831.5,454.5 L831.8,454.8 L832.2,456.0 L832.6,456.9 L833.0,457.3 L833.4,456.7 L833.8,457.1 L834.2,457.0 L834.6,457.1 L835.0,456.8 L835.5,455.9 L835.9,455.4 L836.3,455.5 L836.7,455.4 L837.1,455.9 L837.5,455.8 L837.9,454.8 L838.3,455.3 L838.8,454.3 L839.2,455.5 L839.6,454.5 L840.0,453.8 L840.4,453.9 L840.8,453.8 L841.2,453.7 L841.7,454.1 L842.1,454.5 L842.5,454.5 L842.9,454.8 L843.3,454.5 L843.7,453.0 L844.1,453.1 L844.6,452.8 L845.0,451.2 L845.4,451.1 L845.8,450.4 L846.2,449.7 L846.5,449.8 L846.9,449.1 L847.3,449.4 L847.7,449.0 L848.0,447.9 L848.4,447.0 L848.8,448.0 L849.2,444.7 L849.6,444.3 L850.0,443.6 L850.4,441.0 L850.7,439.6 L851.0,437.8 L851.4,439.6 L851.8,439.6 L852.1,440.5 L852.5,440.5 L852.9,441.2 L853.2,440.9 L853.5,441.8 L853.9,441.8 L854.2,441.3 L854.6,442.8 L855.0,442.8 L855.3,443.4 L855.7,444.4 L856.1,445.3 L856.4,445.6 L856.8,446.4 L857.2,447.6 L857.5,448.2 L857.9,449.3 L858.3,449.4 L858.6,450.0 L859.0,451.0 L859.4,450.5 L859.8,451.8 L860.2,452.2 L860.7,452.6 L861.1,453.8 L861.5,453.8 L861.9,453.8 L862.3,453.2 L862.7,453.7 L863.1,454.7 L863.5,454.6 L863.9,454.8 L864.3,455.8 L864.7,455.6 L865.1,456.3 L865.5,455.8 L865.9,455.9 L866.3,455.3 L866.7,455.4 L867.1,454.8 L867.6,454.2 L868.0,454.2 L868.4,453.0 L868.8,452.8 L869.2,454.0 L869.6,452.8 L870.0,453.5 L870.4,451.5 L870.8,452.3 L871.2,454.0 L871.6,453.0 L872.0,453.2 L872.4,453.1 L872.8,452.5 L873.2,453.0 L873.6,452.6 L874.0,453.0 L874.4,452.7 L874.8,452.1 L875.3,452.2 L875.7,454.7 L876.1,452.7 L876.5,451.6 L876.9,452.4 L877.3,452.2 L877.7,451.0 L878.2,451.0 L878.6,451.1 L879.0,451.0 L879.4,451.0 L879.8,450.8 L880.2,450.8 L880.6,450.8 L881.0,451.2 L881.4,451.2 L881.8,451.3 L882.2,451.9 L882.6,452.3 L883.0,451.1 L883.4,452.4 L883.8,452.0 L884.2,452.6 L884.5,452.3 L884.9,453.9 L885.3,453.7 L885.6,454.4 L886.0,454.2 L886.4,454.7 L886.8,454.5 L887.2,454.5 L887.6,454.2 L888.0,453.8 L888.4,454.6 L888.8,454.8 L889.2,454.8 L889.6,455.0 L890.0,455.0 L890.4,455.1 L890.8,455.1 L891.2,455.2 L891.7,455.2 L892.1,455.2 L892.5,455.2 L892.9,455.2 L893.3,455.2 L893.7,455.3 L894.1,455.4 L894.5,455.5 L894.9,455.5 L895.4,455.5 L895.8,455.6 L896.2,455.6 L896.6,455.5 L897.0,455.6 L897.4,455.6 L897.8,455.5 L898.2,455.7 L898.7,455.6 L899.1,455.5 L899.5,455.6 L899.9,455.6 L900.3,455.7 L900.8,455.7 L901.2,455.6 L901.6,455.7 L902.0,455.6 L902.4,455.5 L902.8,455.6 L903.2,455.5 L903.7,455.5 L904.1,455.5 L904.5,455.5 L904.9,455.5 L905.3,455.4 L905.8,455.5 L906.2,455.4 L906.6,455.3 L907.0,455.5" fill="none" stroke="#038ff9" stroke-width="3.4" stroke-linejoin="miter" stroke-miterlimit="5" stroke-linecap="butt"/>
<path d="M10.5,460.4 L11.7,459.2 L12.9,461.3Z M12.3,461.3 L13.7,463.5 L15.1,461.4Z M13.4,461.2 L14.7,464.2 L16.0,461.9Z M14.3,461.9 L15.6,464.0 L16.8,461.4Z M15.7,461.7 L16.7,459.9 L17.7,460.6Z M16.5,461.6 L18.0,459.4 L19.4,461.1Z M18.6,461.1 L19.8,462.7 L21.0,460.0Z M19.8,460.5 L21.1,462.3 L22.5,459.5Z M21.2,459.8 L22.6,457.8 L23.9,459.4Z M22.8,459.9 L24.2,461.3 L25.6,458.9Z M23.5,459.8 L25.0,456.6 L26.5,459.4Z M25.5,458.9 L26.6,461.1 L27.6,460.3Z M26.6,459.4 L27.5,462.2 L28.5,460.4Z M27.8,460.4 L28.8,463.6 L29.8,461.7Z M29.8,461.6 L30.8,463.6 L31.7,461.5Z M31.8,461.5 L32.8,460.7 L33.9,462.2Z M34.6,462.2 L35.6,464.9 L36.6,462.1Z M35.7,462.6 L37.2,460.3 L38.7,462.2Z M37.3,462.3 L38.4,460.4 L39.5,462.1Z M38.1,461.6 L39.3,460.5 L40.6,462.1Z M39.6,461.9 L40.9,460.4 L42.1,462.2Z M42.0,462.0 L43.4,464.5 L44.8,462.2Z M43.7,462.7 L44.7,464.0 L45.7,463.0Z M46.5,462.6 L47.4,459.7 L48.4,462.4Z M47.2,461.9 L48.3,464.7 L49.4,462.4Z M49.4,462.4 L50.7,460.1 L52.1,460.9Z M50.4,462.0 L51.7,463.7 L53.0,461.2Z M52.0,461.0 L53.0,458.8 L54.1,460.9Z M53.5,460.9 L54.7,459.1 L56.0,459.7Z M54.5,460.7 L55.8,461.6 L57.1,460.0Z M57.1,460.0 L58.0,456.9 L58.9,458.6Z M59.3,458.7 L60.6,455.5 L61.9,457.6Z M61.4,457.5 L62.4,459.3 L63.3,457.4Z M62.9,457.1 L64.3,459.4 L65.6,458.9Z M65.2,458.9 L66.6,462.2 L68.1,459.4Z M67.9,459.4 L69.2,461.3 L70.4,459.3Z M70.3,459.5 L71.2,461.3 L72.2,458.9Z M72.2,458.9 L73.3,462.2 L74.5,459.9Z M74.6,459.9 L75.6,462.4 L76.5,460.4Z M76.9,459.8 L77.9,458.2 L78.9,459.9Z M79.0,459.9 L80.1,462.2 L81.1,461.6Z M79.9,460.0 L80.9,459.5 L81.9,461.6Z M84.3,472.5 L85.6,467.2 L86.9,466.2Z M85.4,469.5 L86.8,468.2 L88.3,463.5Z M87.2,465.9 L88.4,461.2 L89.6,462.3Z M89.8,462.1 L90.9,462.9 L91.9,459.7Z M90.9,460.6 L92.0,457.7 L93.2,460.6Z M92.6,459.7 L94.1,463.0 L95.6,461.5Z M94.9,461.1 L95.8,464.0 L96.7,462.1Z M97.1,462.2 L98.0,465.2 L98.9,462.6Z M98.0,463.2 L99.1,465.6 L100.1,463.5Z M98.9,462.6 L100.1,461.9 L101.4,463.8Z M101.2,463.9 L102.3,466.9 L103.3,465.5Z M102.7,465.3 L104.0,463.5 L105.3,467.0Z M104.0,465.9 L105.2,468.6 L106.4,467.3Z M105.7,467.0 L107.2,469.7 L108.6,468.0Z M107.0,467.5 L108.2,465.4 L109.3,468.5Z M108.8,468.3 L110.2,470.5 L111.6,468.8Z M111.6,468.8 L112.6,471.9 L113.6,470.0Z M113.8,470.0 L114.9,473.2 L115.9,472.0Z M116.1,472.3 L117.5,472.8 L118.8,468.8Z M117.9,469.8 L118.9,466.5 L119.8,469.2Z M119.7,469.1 L120.6,467.1 L121.5,469.9Z M121.9,469.2 L123.0,467.9 L124.1,470.5Z M124.0,470.4 L125.4,472.2 L126.7,471.1Z M126.4,471.3 L127.9,469.0 L129.3,472.0Z M127.5,470.4 L128.8,470.8 L130.2,473.0Z M129.8,472.7 L130.9,475.2 L132.0,473.8Z M131.1,473.4 L132.5,472.2 L133.9,473.3Z M134.0,473.1 L135.2,470.1 L136.4,472.2Z M135.8,471.7 L137.0,474.7 L138.2,471.7Z M137.3,471.7 L138.6,469.5 L139.9,471.8Z M138.1,471.9 L139.5,473.3 L141.0,471.7Z M139.5,471.5 L140.9,469.7 L142.3,471.4Z M142.2,471.4 L143.5,470.0 L144.8,471.9Z M145.1,471.8 L146.1,470.5 L147.1,472.0Z M146.1,472.1 L147.4,469.9 L148.7,471.3Z M147.3,471.9 L148.4,473.2 L149.4,471.3Z M148.4,471.2 L149.6,469.2 L150.7,470.9Z M150.2,471.3 L151.4,472.3 L152.7,470.2Z M152.3,470.1 L153.3,472.0 L154.3,469.4Z M154.5,469.5 L155.6,465.5 L156.7,466.1Z M157.3,464.8 L158.2,466.5 L159.2,465.4Z M158.1,464.6 L159.5,463.4 L160.9,465.9Z M159.8,465.5 L161.2,463.8 L162.5,466.4Z M160.5,466.1 L162.0,468.1 L163.5,466.8Z M161.7,466.3 L163.0,468.5 L164.3,466.4Z M163.0,466.5 L164.2,464.7 L165.4,465.6Z M165.0,466.4 L166.0,464.0 L167.1,465.9Z M167.6,465.1 L168.5,461.7 L169.4,462.9Z M170.0,462.6 L171.2,463.5 L172.4,465.7Z M171.7,465.9 L173.0,463.6 L174.4,465.8Z M174.4,465.8 L175.5,467.1 L176.7,465.8Z M175.3,465.5 L176.7,464.0 L178.2,466.0Z M178.0,466.2 L179.1,468.1 L180.3,466.1Z M180.1,466.1 L181.1,468.4 L182.2,465.6Z M182.6,465.5 L183.8,467.2 L184.9,465.0Z M185.0,465.1 L186.3,467.1 L187.7,463.4Z M186.8,464.7 L188.0,459.8 L189.1,463.3Z M187.7,463.3 L188.8,465.6 L189.8,463.2Z M190.2,463.1 L191.5,465.3 L192.7,457.3Z M192.0,462.4 L193.3,464.5 L194.7,463.5Z M194.3,463.3 L195.7,467.9 L197.0,462.7Z M195.8,464.4 L197.0,459.9 L198.1,462.0Z M196.8,463.3 L198.0,463.8 L199.2,456.8Z M199.3,458.4 L200.7,466.1 L202.1,465.9Z M200.2,463.4 L201.7,463.3 L203.1,463.0Z M201.5,465.4 L202.8,463.6 L204.0,457.9Z M202.4,466.7 L203.7,461.9 L204.9,453.7Z M204.1,457.7 L205.2,454.8 L206.3,460.9Z M206.5,460.7 L207.5,457.7 L208.4,459.9Z M207.2,460.7 L208.6,462.0 L209.9,458.6Z M208.0,459.9 L209.5,456.5 L210.9,458.5Z M209.9,458.6 L211.1,456.6 L212.3,457.9Z M212.4,457.7 L213.8,460.0 L215.2,457.6Z M214.8,457.7 L215.8,455.7 L216.8,457.8Z M215.4,457.5 L216.7,455.7 L218.0,458.5Z M217.1,458.2 L218.4,456.8 L219.8,458.6Z M219.2,458.7 L220.3,460.9 L221.3,458.4Z M220.2,458.4 L221.3,460.7 L222.4,456.3Z M221.4,458.4 L222.7,458.4 L223.9,454.1Z M223.5,454.7 L225.0,451.9 L226.4,438.5Z M229.4,361.8 L230.7,357.4 L231.9,365.7Z M233.5,385.1 L234.7,390.6 L235.9,397.6Z M235.0,394.3 L236.0,400.1 L236.9,387.7Z M238.3,379.2 L239.4,377.6 L240.6,395.1Z M242.1,391.1 L243.1,389.9 L244.2,381.0Z M243.9,383.3 L245.0,377.3 L246.2,385.8Z M244.8,378.5 L246.0,380.3 L247.3,389.6Z M246.9,389.0 L247.8,395.0 L248.8,395.0Z M247.7,392.2 L249.0,391.0 L250.4,397.6Z M249.9,397.6 L251.2,395.5 L252.6,384.0Z M252.3,389.8 L253.8,383.4 L255.3,382.3Z M255.3,383.4 L256.4,387.7 L257.5,386.0Z M256.9,388.4 L258.0,380.3 L259.1,378.0Z M258.5,381.7 L259.5,377.7 L260.6,388.5Z M260.2,385.6 L261.5,395.0 L262.7,392.8Z M261.7,392.0 L262.6,390.1 L263.5,390.7Z M267.3,352.3 L268.3,351.9 L269.2,342.9Z M273.2,349.5 L274.5,342.0 L275.8,358.8Z M276.5,364.1 L277.9,349.2 L279.2,340.8Z M282.4,186.4 L283.6,188.1 L284.8,190.9Z M299.8,224.0 L301.3,221.4 L302.8,212.4Z M304.1,235.1 L305.2,245.7 L306.4,241.0Z M310.2,241.2 L311.4,236.1 L312.5,243.2Z M311.8,239.9 L312.8,236.0 L313.7,247.4Z M313.7,247.5 L314.9,239.4 L316.0,240.4Z M318.4,256.9 L319.5,255.8 L320.5,262.9Z M319.7,259.6 L320.7,260.6 L321.7,267.6Z M320.9,266.2 L322.1,265.2 L323.3,269.9Z M325.2,255.3 L326.3,254.7 L327.4,260.9Z M329.4,201.6 L330.9,201.3 L332.4,204.0Z M333.4,229.1 L334.9,231.5 L336.4,226.0Z M335.9,232.4 L337.0,215.6 L338.1,225.8Z M338.4,227.4 L339.4,226.2 L340.4,232.9Z M339.5,231.3 L340.8,233.1 L342.1,225.9Z M342.2,225.0 L343.6,218.8 L345.0,225.3Z M343.5,221.9 L344.4,233.1 L345.4,227.4Z M344.6,226.5 L345.7,222.2 L346.9,228.1Z M347.1,226.3 L348.5,216.2 L349.8,214.5Z M349.1,217.0 L350.1,229.8 L351.1,219.5Z M350.9,219.7 L352.0,225.3 L353.1,221.6Z M352.1,218.8 L353.4,217.7 L354.7,228.6Z M353.7,221.4 L354.9,221.0 L356.1,228.7Z M356.5,229.4 L357.6,225.3 L358.8,236.8Z M359.0,235.6 L359.9,229.6 L360.8,232.7Z M363.9,248.2 L365.1,250.3 L366.2,252.5Z M365.6,251.6 L366.9,244.9 L368.2,254.6Z M366.8,249.9 L368.2,250.5 L369.7,259.2Z M369.2,257.5 L370.2,265.9 L371.1,263.0Z M370.2,259.9 L371.3,265.4 L372.3,257.2Z M371.8,259.2 L372.9,250.4 L373.9,258.0Z M372.5,257.8 L374.0,253.4 L375.4,253.5Z M374.2,254.9 L375.6,260.4 L377.0,263.7Z M376.1,259.0 L377.2,259.6 L378.3,262.8Z M378.1,262.2 L379.4,270.9 L380.7,261.8Z M379.3,263.6 L380.2,265.7 L381.2,262.7Z M380.5,261.5 L381.8,272.1 L383.1,272.6Z M381.8,266.9 L382.9,277.7 L384.0,274.7Z M383.5,273.6 L384.7,276.7 L385.9,275.1Z M385.7,274.9 L386.9,286.6 L388.2,285.7Z M388.0,284.1 L389.1,293.9 L390.2,289.5Z M390.3,288.9 L391.8,281.3 L393.2,283.0Z M391.6,286.3 L392.8,288.3 L394.1,284.9Z M392.9,282.1 L394.2,291.2 L395.4,290.9Z M394.2,284.8 L395.2,295.7 L396.2,290.4Z M396.2,290.4 L397.1,300.9 L398.1,296.5Z M396.7,293.9 L398.0,300.5 L399.3,295.1Z M398.2,296.0 L399.4,289.2 L400.7,296.8Z M400.8,296.4 L401.8,292.4 L402.8,303.5Z M404.1,315.1 L405.3,313.5 L406.6,322.8Z M405.8,319.2 L406.8,330.4 L407.8,327.0Z M408.3,327.7 L409.5,328.0 L410.8,330.8Z M410.2,333.4 L411.7,324.9 L413.2,321.8Z M415.3,310.4 L416.7,312.9 L418.1,318.1Z M417.5,313.8 L418.5,324.9 L419.6,321.6Z M418.2,318.7 L419.5,326.4 L420.7,323.8Z M420.8,323.7 L421.8,320.8 L422.7,326.7Z M422.1,326.7 L423.5,323.3 L424.8,327.5Z M424.3,326.9 L425.3,326.3 L426.3,334.0Z M424.8,327.7 L426.2,339.4 L427.7,332.2Z M426.6,333.7 L427.9,336.0 L429.1,326.9Z M429.3,327.1 L430.5,326.8 L431.7,333.4Z M432.1,335.4 L433.2,335.5 L434.3,340.2Z M433.0,337.3 L434.1,335.3 L435.2,341.0Z M435.0,340.2 L436.1,348.0 L437.2,337.7Z M436.9,338.7 L437.9,329.2 L438.9,336.8Z M437.9,334.6 L439.3,332.4 L440.7,342.4Z M439.3,337.7 L440.8,346.9 L442.3,340.9Z M441.1,344.1 L442.0,347.4 L442.9,339.7Z M441.6,343.0 L443.0,344.2 L444.4,342.4Z M444.1,340.8 L445.2,350.8 L446.4,351.4Z M445.2,348.0 L446.2,352.9 L447.2,351.9Z M446.2,350.2 L447.3,354.2 L448.5,349.7Z M448.4,350.2 L449.5,346.1 L450.6,353.0Z M451.2,353.6 L452.1,360.6 L453.1,354.2Z M454.0,344.5 L454.9,341.1 L455.8,340.0Z M460.9,316.7 L462.0,310.7 L463.0,310.8Z M461.8,306.7 L463.3,313.4 L464.8,317.6Z M464.7,317.6 L465.9,325.6 L467.1,323.6Z M465.8,320.2 L467.1,319.1 L468.4,325.9Z M468.1,325.1 L469.4,334.9 L470.8,332.7Z M470.3,333.2 L471.3,340.1 L472.3,336.1Z M471.9,336.8 L473.3,340.5 L474.7,338.5Z M474.4,338.8 L475.7,332.0 L476.9,330.4Z M479.3,319.9 L480.3,317.2 L481.4,319.0Z M480.3,312.7 L481.4,317.4 L482.6,313.2Z M481.5,320.7 L482.8,323.7 L484.0,313.6Z M483.6,319.6 L484.7,303.2 L485.7,312.2Z M484.5,308.6 L485.5,319.2 L486.6,302.9Z M487.5,298.9 L488.5,284.3 L489.5,294.2Z M489.5,293.7 L490.7,282.2 L491.8,286.9Z M491.0,288.9 L492.2,278.7 L493.4,283.0Z M493.2,282.6 L494.5,267.4 L495.9,280.5Z M498.1,290.5 L499.3,299.0 L500.4,292.0Z M498.9,299.3 L500.2,296.6 L501.6,297.6Z M500.3,292.8 L501.5,292.6 L502.7,298.0Z M502.9,296.6 L504.2,301.0 L505.4,299.1Z M503.9,294.9 L505.0,297.4 L506.1,294.9Z M508.6,319.1 L509.7,321.0 L510.9,331.5Z M511.1,333.1 L512.2,328.5 L513.3,333.6Z M512.4,332.3 L513.4,329.5 L514.4,332.1Z M513.8,334.1 L515.1,333.2 L516.4,326.9Z M516.3,326.3 L517.7,319.9 L519.0,326.2Z M518.1,323.3 L519.2,321.9 L520.2,333.8Z M519.7,329.4 L520.8,324.5 L521.9,332.8Z M520.5,332.7 L521.9,341.6 L523.2,334.7Z M523.5,335.7 L524.5,334.3 L525.4,333.6Z M526.1,331.7 L527.1,335.3 L528.0,331.1Z M527.4,327.4 L528.6,324.3 L529.9,329.2Z M528.5,331.9 L529.5,335.4 L530.5,328.4Z M530.7,330.2 L531.7,333.0 L532.7,331.7Z M531.8,327.8 L532.9,328.4 L534.1,329.9Z M534.4,329.5 L535.5,329.1 L536.5,337.2Z M535.0,333.0 L536.3,339.6 L537.7,340.5Z M538.1,341.7 L539.1,349.0 L540.1,345.3Z M540.2,345.0 L541.3,352.6 L542.3,344.5Z M542.4,345.0 L543.3,341.9 L544.3,341.0Z M543.9,342.2 L544.9,335.3 L545.9,339.7Z M545.5,340.4 L546.5,348.5 L547.6,340.7Z M546.3,342.8 L547.5,334.8 L548.7,344.7Z M548.6,343.6 L549.7,337.6 L550.8,339.2Z M550.0,343.0 L551.2,336.8 L552.4,346.0Z M552.3,344.5 L553.2,338.4 L554.1,345.1Z M553.4,345.1 L554.7,341.9 L556.0,355.1Z M554.8,349.8 L555.9,359.5 L557.0,353.6Z M556.5,351.1 L557.8,363.9 L559.1,360.2Z M558.0,357.9 L559.4,366.5 L560.9,360.6Z M559.8,361.5 L561.0,348.7 L562.2,358.5Z M561.4,360.5 L562.4,355.8 L563.4,360.0Z M562.5,361.2 L563.7,353.1 L564.9,364.6Z M564.0,361.4 L565.3,369.7 L566.5,364.0Z M566.2,363.7 L567.3,371.2 L568.4,363.0Z M567.5,364.5 L568.8,366.7 L570.1,362.3Z M569.7,361.7 L571.0,356.5 L572.3,360.8Z M571.4,364.1 L572.8,352.4 L574.1,358.9Z M573.6,358.9 L574.6,355.0 L575.6,366.3Z M575.5,365.3 L576.5,359.7 L577.4,367.4Z M577.5,367.8 L578.7,374.4 L579.9,370.3Z M578.7,370.3 L579.8,363.3 L580.8,372.0Z M580.6,370.7 L581.6,378.6 L582.7,377.7Z M582.4,376.7 L583.8,384.6 L585.2,384.0Z M585.0,382.2 L586.3,390.4 L587.6,386.7Z M587.5,386.9 L588.8,386.5 L590.1,396.9Z M588.6,389.5 L590.0,402.3 L591.5,396.6Z M594.5,376.2 L596.0,371.4 L597.5,373.9Z M597.9,374.9 L598.8,374.4 L599.7,382.0Z M599.1,378.6 L600.2,377.4 L601.3,386.1Z M599.9,381.1 L601.0,379.7 L602.1,389.9Z M602.1,390.0 L603.4,380.0 L604.7,385.6Z M604.5,385.5 L605.7,398.3 L607.0,396.3Z M606.7,393.9 L608.1,395.4 L609.6,406.5Z M608.5,400.4 L609.4,402.5 L610.4,408.5Z M610.3,408.3 L611.4,408.6 L612.4,410.9Z M612.2,411.4 L613.1,407.3 L614.1,408.0Z M614.5,407.5 L615.7,399.0 L616.9,405.4Z M617.4,401.8 L618.5,394.5 L619.7,397.3Z M619.6,397.2 L620.9,398.1 L622.2,397.5Z M621.5,396.4 L623.0,405.3 L624.5,401.0Z M623.8,402.1 L624.7,392.7 L625.6,395.6Z M624.5,401.4 L625.8,390.9 L627.2,390.5Z M625.7,396.0 L627.2,382.8 L628.7,385.2Z M626.7,391.7 L628.0,393.9 L629.4,388.8Z M628.2,388.6 L629.6,393.8 L631.1,389.6Z M629.6,388.0 L630.6,394.6 L631.7,390.9Z M632.1,391.1 L633.3,391.6 L634.4,395.2Z M633.5,394.3 L634.8,387.6 L636.1,400.0Z M635.4,398.5 L636.3,396.3 L637.3,403.5Z M636.6,401.2 L637.8,408.7 L639.0,400.4Z M638.8,401.7 L639.9,395.2 L641.1,398.2Z M640.5,401.4 L641.6,396.3 L642.7,399.4Z M642.4,400.1 L643.5,406.2 L644.6,396.9Z M644.3,397.6 L645.8,390.5 L647.3,389.6Z M646.0,394.9 L647.0,385.8 L648.1,389.2Z M648.1,389.4 L649.2,371.0 L650.3,379.8Z M650.7,378.2 L652.0,375.0 L653.2,380.5Z M651.9,378.8 L653.2,386.0 L654.5,385.7Z M653.7,382.9 L655.0,392.4 L656.3,385.5Z M655.7,382.9 L656.7,376.7 L657.7,385.1Z M657.4,385.4 L658.7,378.1 L660.0,386.9Z M659.4,385.1 L660.4,391.9 L661.4,386.2Z M660.8,387.0 L662.1,380.7 L663.5,390.5Z M663.4,390.3 L664.9,386.6 L666.4,391.8Z M665.2,391.3 L666.7,393.7 L668.2,382.7Z M668.2,382.9 L669.2,389.9 L670.1,388.4Z M670.5,390.8 L671.7,399.1 L672.9,395.2Z M672.3,397.4 L673.6,390.9 L674.9,403.4Z M673.5,396.2 L674.5,396.3 L675.6,402.9Z M675.5,403.3 L676.9,407.1 L678.4,403.4Z M678.4,403.3 L679.3,400.3 L680.2,402.3Z M679.8,402.8 L680.8,396.0 L681.8,398.8Z M681.4,399.8 L682.4,404.0 L683.3,397.0Z M683.8,396.2 L685.2,402.1 L686.5,398.4Z M685.2,398.4 L686.3,392.2 L687.4,400.2Z M686.5,398.2 L687.8,406.4 L689.1,399.8Z M688.0,400.7 L688.9,397.0 L689.9,401.2Z M689.0,400.3 L690.0,395.1 L691.0,398.9Z M691.7,397.8 L692.8,393.7 L693.8,401.3Z M693.0,400.1 L694.4,402.4 L695.8,405.1Z M694.9,406.3 L696.0,410.6 L697.1,405.8Z M696.8,407.9 L698.2,402.1 L699.6,406.2Z M698.1,405.9 L699.6,400.7 L701.0,406.8Z M700.2,406.0 L701.1,403.1 L702.1,405.6Z M701.7,406.2 L702.8,410.5 L703.9,407.9Z M704.0,408.0 L705.0,402.0 L706.0,403.2Z M706.2,402.3 L707.6,394.9 L709.0,389.0Z M708.6,392.2 L710.1,387.3 L711.5,400.1Z M709.7,388.7 L711.0,401.2 L712.3,401.2Z M711.3,399.1 L712.5,396.2 L713.8,401.4Z M713.0,402.1 L714.3,397.5 L715.6,400.4Z M715.1,402.4 L716.3,407.6 L717.4,400.9Z M717.8,400.3 L718.7,406.0 L719.7,401.2Z M719.0,401.3 L720.5,397.5 L722.0,398.3Z M720.3,401.3 L721.7,395.3 L723.0,398.1Z M721.3,399.8 L722.6,399.9 L724.0,398.8Z M723.0,398.0 L724.0,403.4 L724.9,401.0Z M724.3,399.8 L725.7,403.6 L727.1,402.3Z M725.6,401.1 L726.5,406.4 L727.5,402.2Z M727.7,401.0 L728.9,394.3 L730.2,397.7Z M728.6,398.4 L730.0,395.3 L731.3,395.5Z M730.1,398.0 L731.3,389.6 L732.4,395.5Z M731.8,396.0 L733.2,393.1 L734.6,400.6Z M733.0,396.2 L734.3,394.1 L735.6,399.6Z M735.8,399.9 L736.8,392.0 L737.8,397.9Z M738.0,398.3 L739.3,391.3 L740.5,394.0Z M738.8,396.4 L740.1,397.4 L741.4,392.1Z M741.6,392.3 L742.6,389.2 L743.7,395.6Z M742.3,392.8 L743.6,390.2 L744.9,398.3Z M747.8,406.3 L748.9,404.7 L750.0,398.0Z M749.1,399.7 L750.3,391.3 L751.5,394.3Z M751.1,395.4 L752.1,388.7 L753.0,392.2Z M753.4,392.3 L754.5,394.2 L755.7,394.6Z M754.6,391.3 L755.8,391.3 L757.0,394.9Z M755.9,393.9 L757.0,390.3 L758.2,396.6Z M758.6,396.8 L759.8,400.9 L760.9,398.4Z M760.5,397.4 L761.8,404.0 L763.0,403.4Z M762.3,403.1 L763.2,407.4 L764.1,406.4Z M763.0,403.4 L764.2,409.6 L765.3,408.0Z M765.7,409.4 L766.7,416.6 L767.7,414.1Z M768.1,416.0 L769.5,409.5 L770.9,410.8Z M770.9,411.0 L771.8,418.8 L772.8,414.1Z M773.0,414.3 L773.9,421.0 L774.8,423.7Z M777.7,416.2 L778.9,421.9 L780.0,421.1Z M779.7,419.7 L781.0,416.6 L782.4,419.8Z M781.5,420.0 L782.7,416.6 L783.9,421.1Z M782.8,420.7 L783.7,418.4 L784.7,421.5Z M785.2,423.8 L786.2,419.2 L787.2,421.5Z M786.6,423.2 L787.6,427.1 L788.7,421.0Z M787.8,422.5 L789.3,417.6 L790.7,421.2Z M789.7,420.9 L791.0,418.5 L792.3,422.1Z M792.3,422.1 L793.7,420.3 L795.0,425.0Z M793.7,423.7 L794.7,428.8 L795.7,426.9Z M795.0,425.0 L796.2,430.2 L797.4,428.0Z M796.5,428.3 L797.7,424.9 L799.0,430.9Z M798.5,429.1 L799.5,435.3 L800.5,432.1Z M799.9,432.1 L800.8,429.0 L801.8,433.4Z M802.0,434.2 L803.3,432.5 L804.5,441.5Z M804.0,440.0 L805.2,441.0 L806.4,442.8Z M805.1,444.9 L806.5,439.0 L807.9,441.6Z M806.2,443.7 L807.3,445.3 L808.4,439.4Z M807.5,442.2 L808.4,443.2 L809.4,439.3Z M809.5,439.4 L810.8,440.7 L812.1,437.5Z M810.4,438.6 L811.8,441.4 L813.3,438.2Z M812.9,438.7 L814.0,442.2 L815.1,438.5Z M815.6,438.8 L816.5,436.0 L817.4,440.9Z M817.4,440.9 L818.4,440.2 L819.4,442.4Z M819.0,443.6 L820.2,442.5 L821.4,446.4Z M821.5,446.5 L822.7,448.9 L824.0,446.0Z M823.2,446.9 L824.6,450.6 L826.1,452.2Z M825.8,451.5 L827.0,460.0 L828.1,458.0Z M828.0,457.9 L829.3,453.7 L830.7,454.0Z M831.0,455.3 L832.0,452.7 L833.1,457.2Z M833.8,457.1 L834.7,459.2 L835.7,455.7Z M835.8,455.5 L837.3,453.7 L838.8,454.5Z M837.8,455.1 L838.7,459.1 L839.7,454.3Z M838.2,455.1 L839.6,457.2 L841.0,453.7Z M841.0,453.8 L842.0,458.5 L843.0,454.7Z M842.5,454.5 L843.8,450.6 L845.2,451.1Z M844.2,453.1 L845.5,446.8 L846.7,449.5Z M847.1,449.3 L848.2,444.6 L849.3,444.6Z M849.0,446.7 L850.4,444.4 L851.9,439.9Z M851.7,439.6 L852.9,436.0 L854.2,441.4Z M854.2,441.4 L855.1,445.9 L856.1,445.3Z M855.5,443.9 L856.9,441.9 L858.4,449.6Z M858.3,449.6 L859.7,454.2 L861.0,453.5Z M860.6,452.6 L861.5,456.5 L862.4,453.3Z M861.3,453.8 L862.4,456.3 L863.6,454.6Z M862.8,454.0 L863.9,458.3 L865.0,456.0Z M864.7,455.6 L865.9,458.4 L867.0,455.0Z M866.1,455.7 L867.1,451.8 L868.2,453.5Z M867.6,454.2 L868.9,450.2 L870.2,452.5Z M869.2,454.0 L870.2,455.0 L871.2,453.9Z M870.2,452.6 L871.5,455.5 L872.8,452.5Z M872.8,452.5 L873.9,456.8 L874.9,452.2Z M874.0,453.0 L875.1,449.7 L876.2,452.4Z M876.4,452.0 L877.7,447.8 L879.1,451.0Z M879.0,451.0 L880.1,448.4 L881.2,451.2Z M881.2,451.2 L882.1,454.6 L883.0,451.1Z M882.9,451.4 L883.9,455.7 L884.9,453.7Z M884.0,452.3 L885.1,456.8 L886.2,454.4Z M886.7,454.5 L887.7,456.1 L888.8,454.8Z" fill="#038ff9" stroke="#038ff9" stroke-width="0.5" stroke-linejoin="miter"/>
<line x1="9" y1="464.5" x2="850" y2="464.5" stroke="#038ff9" stroke-width="1" stroke-dasharray="1.6,1.2"/>
<line x1="9" y1="266.5" x2="892" y2="266.5" stroke="#566279" stroke-width="1" stroke-dasharray="5,6"/>
<line x1="493.5" y1="75" x2="493.5" y2="508" stroke="#566279" stroke-width="1" stroke-dasharray="5,6"/>
<rect x="9" y="508" width="979" height="1" fill="#50586a"/>
<rect x="909" y="75" width="1" height="460" fill="#50586a"/>
<rect x="15" y="509" width="1" height="4" fill="#50586a"/>
<rect x="105" y="509" width="1" height="4" fill="#50586a"/>
<rect x="244" y="509" width="1" height="4" fill="#50586a"/>
<rect x="397" y="509" width="1" height="4" fill="#50586a"/>
<rect x="546" y="509" width="1" height="4" fill="#50586a"/>
<rect x="699" y="509" width="1" height="4" fill="#50586a"/>
<rect x="848" y="509" width="1" height="4" fill="#50586a"/>
<rect x="910" y="81" width="4" height="1" fill="#50586a"/>
<rect x="910" y="112" width="4" height="1" fill="#50586a"/>
<rect x="910" y="144" width="4" height="1" fill="#50586a"/>
<rect x="910" y="175" width="4" height="1" fill="#50586a"/>
<rect x="910" y="206" width="4" height="1" fill="#50586a"/>
<rect x="910" y="237" width="4" height="1" fill="#50586a"/>
<rect x="910" y="269" width="4" height="1" fill="#50586a"/>
<rect x="910" y="300" width="4" height="1" fill="#50586a"/>
<rect x="910" y="331" width="4" height="1" fill="#50586a"/>
<rect x="910" y="362" width="4" height="1" fill="#50586a"/>
<rect x="910" y="394" width="4" height="1" fill="#50586a"/>
<rect x="910" y="425" width="4" height="1" fill="#50586a"/>
<rect x="910" y="456" width="4" height="1" fill="#50586a"/>
<rect x="910" y="487" width="4" height="1" fill="#50586a"/>
</svg>
<div class="box" style="left:892px;top:257px;width:16px;height:18px;background:#4c525e"></div>
<div class="box" style="left:910px;top:257px;width:78px;height:18px;background:#4c525e"></div>
<div class="box" style="left:440px;top:509px;width:105px;height:23px;background:#4c525e;border-radius:0 0 2px 2px"></div>
<div class="box" style="left:850px;top:455px;width:58px;height:18px;background:#038ff9"></div>
<div class="box" style="left:909px;top:455px;width:79px;height:18px;background:#038ff9"></div>
<div class="box" style="left:946px;top:474px;width:42px;height:18px;background:#038ff9"></div>
<svg class="chart" width="999" height="582" viewBox="0 0 999 582"><path d="M900.5 261v11M895 266.5h11" stroke="#fff" stroke-width="1" fill="none"/><rect x="910" y="266" width="4" height="1" fill="#fff"/><rect x="909" y="464" width="4" height="1" fill="#fff"/><rect x="493" y="509" width="1" height="4" fill="#fff"/></svg>
<div class="txt">
<div class="t" style="left:35.80px;top:20px;font-size:13px;line-height:16px;transform:scaleX(1.0340);color:#fff;">Binance</div>
<div class="t" style="left:36.80px;top:36px;font-size:20px;line-height:24px;transform:scaleX(0.9470);color:#fff;">0.00000874</div>
<div class="t" style="left:194.30px;top:20px;font-size:13px;line-height:16px;transform:scaleX(1.1739);color:#758696;">Bittrex</div>
<div class="t" style="left:194.60px;top:36px;font-size:20px;line-height:24px;transform:scaleX(0.9565);color:#1c2030;">0.00000877</div>
<div class="t" style="left:352.90px;top:20px;font-size:13px;line-height:16px;transform:scaleX(1.0167);color:#758696;">HitBTC</div>
<div class="t" style="left:353.60px;top:36px;font-size:20px;line-height:24px;transform:scaleX(0.9500);color:#1c2030;">0.0000087628</div>
<div class="t" style="left:24.00px;top:85px;font-size:16px;line-height:18px;transform:scaleX(0.9808);color:#4a5366;">Enjin Coin</div>
<div class="t" style="left:104.20px;top:85px;font-size:16px;line-height:18px;transform:scaleX(1.1111);color:#4a5366;">/</div>
<div class="t" style="left:115.10px;top:85px;font-size:16px;line-height:18px;transform:scaleX(1.0104);color:#4a5366;">Bitcoin</div>
<div class="t" style="left:177.30px;top:85px;font-size:16px;line-height:18px;transform:scaleX(0.8727);color:#4a5366;">120</div>
<div class="t" style="left:214.60px;top:85px;font-size:16px;line-height:18px;transform:scaleX(0.8481);color:#4a5366;">BINANCE</div>
<div class="t" style="left:292.10px;top:87px;font-size:13px;line-height:15px;transform:scaleX(0.9549);color:#038ff9;">0.00003786</div>
<div class="t" style="left:370.40px;top:87px;font-size:13px;line-height:15px;transform:scaleX(0.9266);color:#038ff9;">+0.00000003</div>
<div class="t" style="left:447.30px;top:87px;font-size:13px;line-height:15px;transform:scaleX(0.8908);color:#038ff9;">(+0.08%)</div>
<div class="t" style="left:918.20px;top:75px;font-size:12px;line-height:14px;transform:scaleX(0.9558);">0.00007000</div>
<div class="t" style="left:918.20px;top:106px;font-size:12px;line-height:14px;transform:scaleX(0.9558);">0.00006500</div>
<div class="t" style="left:918.20px;top:138px;font-size:12px;line-height:14px;transform:scaleX(0.9558);">0.00006000</div>
<div class="t" style="left:918.20px;top:169px;font-size:12px;line-height:14px;transform:scaleX(0.9558);">0.00005500</div>
<div class="t" style="left:918.20px;top:200px;font-size:12px;line-height:14px;transform:scaleX(0.9558);">0.00005000</div>
<div class="t" style="left:918.20px;top:231px;font-size:12px;line-height:14px;transform:scaleX(0.9558);">0.00004500</div>
<div class="t" style="left:918.20px;top:263px;font-size:12px;line-height:14px;transform:scaleX(0.9558);">0.00004000</div>
<div class="t" style="left:918.20px;top:294px;font-size:12px;line-height:14px;transform:scaleX(0.9558);">0.00003500</div>
<div class="t" style="left:918.20px;top:325px;font-size:12px;line-height:14px;transform:scaleX(0.9558);">0.00003000</div>
<div class="t" style="left:918.20px;top:356px;font-size:12px;line-height:14px;transform:scaleX(0.9558);">0.00002500</div>
<div class="t" style="left:918.20px;top:388px;font-size:12px;line-height:14px;transform:scaleX(0.9558);">0.00002000</div>
<div class="t" style="left:918.20px;top:419px;font-size:12px;line-height:14px;transform:scaleX(0.9558);">0.00001500</div>
<div class="t" style="left:918.20px;top:450px;font-size:12px;line-height:14px;transform:scaleX(0.9558);">0.00001000</div>
<div class="t" style="left:918.20px;top:481px;font-size:12px;line-height:14px;transform:scaleX(0.9558);">0.00000500</div>
<div class="t" style="left:8.58px;top:517px;font-size:12px;line-height:14px;transform:scaleX(1.0400);">14</div>
<div class="t" style="left:94.74px;top:517px;font-size:12px;line-height:14px;transform:scaleX(1.0400);">Feb</div>
<div class="t" style="left:233.74px;top:517px;font-size:12px;line-height:14px;transform:scaleX(1.0400);">Mar</div>
<div class="t" style="left:387.78px;top:517px;font-size:12px;line-height:14px;transform:scaleX(1.0400);">Apr</div>
<div class="t" style="left:534.70px;top:517px;font-size:12px;line-height:14px;transform:scaleX(1.0400);">May</div>
<div class="t" style="left:688.96px;top:517px;font-size:12px;line-height:14px;transform:scaleX(1.0400);">Jun</div>
<div class="t" style="left:839.04px;top:517px;font-size:12px;line-height:14px;transform:scaleX(1.0400);">Jul</div>
</div>
<div class="box" style="left:910px;top:257px;width:78px;height:18px;background:#4c525e"></div>
<div class="box" style="left:440px;top:509px;width:105px;height:23px;background:#4c525e;border-radius:0 0 2px 2px"></div>
<div class="box" style="left:909px;top:455px;width:79px;height:18px;background:#038ff9"></div>
<div class="box" style="left:946px;top:474px;width:42px;height:18px;background:#038ff9"></div>
<svg class="chart" width="999" height="582" viewBox="0 0 999 582"><rect x="910" y="266" width="4" height="1" fill="#fff"/><rect x="909" y="464" width="4" height="1" fill="#fff"/><rect x="493" y="509" width="1" height="4" fill="#fff"/><circle cx="170.1" cy="93.5" r="1.15" fill="#c0c4d2"/><circle cx="207.4" cy="93.5" r="1.15" fill="#c0c4d2"/></svg>
<div class="txt">
<div class="t" style="left:918.20px;top:259px;font-size:12px;line-height:14px;transform:scaleX(0.9558);color:#fff;">0.00004042</div>
<div class="t" style="left:446.80px;top:514px;font-size:12px;line-height:14px;transform:scaleX(0.9665);color:#fff;">20 Apr &#39;19</div>
<div class="t" style="left:510.50px;top:514px;font-size:12px;line-height:14px;transform:scaleX(0.9667);color:#fff;">06:00</div>
<div class="t" style="left:858.80px;top:457px;font-size:12px;line-height:14px;transform:scaleX(0.8349);color:#fff;">BINANCE</div>
<div class="t" style="left:918.20px;top:457px;font-size:12px;line-height:14px;transform:scaleX(0.9495);color:#fff;">0.00000874</div>
<div class="t" style="left:951.20px;top:476px;font-size:12px;line-height:14px;transform:scaleX(0.9067);color:#fff;">14:40</div>
<div class="t" style="left:24.80px;top:547px;font-size:14px;line-height:16px;transform:scaleX(0.7933);color:#262b3c;">1D</div>
<div class="t" style="left:53.80px;top:547px;font-size:14px;line-height:16px;transform:scaleX(0.8492);color:#262b3c;">5D</div>
<div class="t" style="left:84.20px;top:547px;font-size:14px;line-height:16px;transform:scaleX(0.8660);color:#262b3c;">1M</div>
<div class="t" style="left:115.60px;top:547px;font-size:14px;line-height:16px;transform:scaleX(0.8711);color:#262b3c;">3M</div>
<div class="t" style="left:146.60px;top:547px;font-size:14px;line-height:16px;transform:scaleX(0.8711);color:#038ff9;">6M</div>
<div class="t" style="left:177.70px;top:547px;font-size:14px;line-height:16px;transform:scaleX(0.8857);color:#262b3c;">YTD</div>
<div class="t" style="left:216.40px;top:547px;font-size:14px;line-height:16px;transform:scaleX(0.8538);color:#262b3c;">1Y</div>
<div class="t" style="left:246.10px;top:547px;font-size:14px;line-height:16px;transform:scaleX(0.8421);color:#262b3c;">5Y</div>
<div class="t" style="left:274.90px;top:547px;font-size:14px;line-height:16px;transform:scaleX(1.0128);color:#262b3c;">All</div>
<div class="t" style="left:931.00px;top:547px;font-size:14px;line-height:16px;transform:scaleX(0.9677);color:#262b3c;">%</div>
<div class="t" style="left:958.00px;top:547px;font-size:14px;line-height:16px;transform:scaleX(0.9626);color:#262b3c;">log</div>
</div>
<div style="position:absolute;left:147px;top:565px;width:16px;height:2px;background:#038ff9"></div>
</body></html>
